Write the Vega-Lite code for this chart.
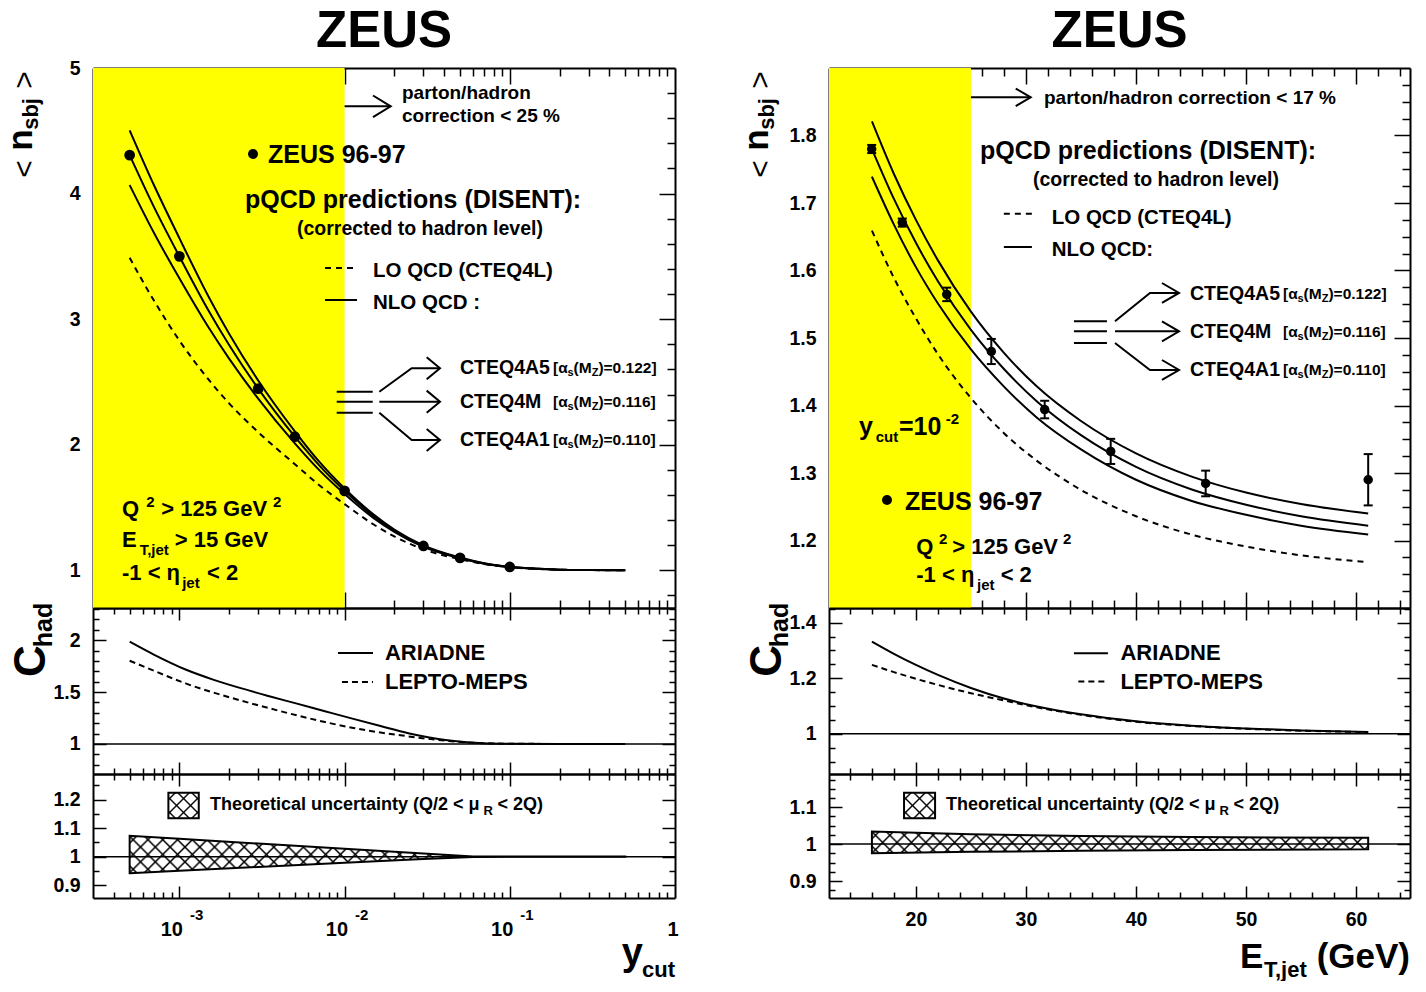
{
"$schema": "https://vega.github.io/schema/vega-lite/v6.json",
"background": "white",
"padding": {"left": 4, "top": 6, "right": 5, "bottom": 0},
"config": {
  "view": {"stroke": null},
  "axis": {"labels": false, "domain": false, "grid": false, "tickColor": "black", "tickWidth": 1.5, "domainColor": "black", "domainWidth": 2, "labelColor": "black", "labelFont": "Liberation Sans", "labelFontWeight": "bold", "labelFontSize": 19.5, "labelOverlap": false, "labelFlush": false, "zindex": 2},
  "text": {"font": "Liberation Sans", "fontWeight": "bold", "color": "black"}
},
"datasets": {
  "nloL": [
    {"pdf":"CTEQ4A5","x":0.0005,"y":4.504},{"pdf":"CTEQ4A5","x":0.0007,"y":4.07},{"pdf":"CTEQ4A5","x":0.001,"y":3.645},{"pdf":"CTEQ4A5","x":0.0015,"y":3.181},{"pdf":"CTEQ4A5","x":0.002,"y":2.884},{"pdf":"CTEQ4A5","x":0.003,"y":2.512},{"pdf":"CTEQ4A5","x":0.005,"y":2.107},{"pdf":"CTEQ4A5","x":0.007,"y":1.867},{"pdf":"CTEQ4A5","x":0.01,"y":1.652},{"pdf":"CTEQ4A5","x":0.015,"y":1.444},{"pdf":"CTEQ4A5","x":0.02,"y":1.325},{"pdf":"CTEQ4A5","x":0.03,"y":1.199},{"pdf":"CTEQ4A5","x":0.05,"y":1.102},{"pdf":"CTEQ4A5","x":0.07,"y":1.057},{"pdf":"CTEQ4A5","x":0.1,"y":1.028},{"pdf":"CTEQ4A5","x":0.15,"y":1.012},{"pdf":"CTEQ4A5","x":0.2,"y":1.005},{"pdf":"CTEQ4A5","x":0.3,"y":1.002},{"pdf":"CTEQ4A5","x":0.5,"y":1.0},
    {"pdf":"CTEQ4M","x":0.0005,"y":4.306},{"pdf":"CTEQ4M","x":0.0007,"y":3.896},{"pdf":"CTEQ4M","x":0.001,"y":3.5},{"pdf":"CTEQ4M","x":0.0015,"y":3.069},{"pdf":"CTEQ4M","x":0.002,"y":2.794},{"pdf":"CTEQ4M","x":0.003,"y":2.447},{"pdf":"CTEQ4M","x":0.005,"y":2.064},{"pdf":"CTEQ4M","x":0.007,"y":1.838},{"pdf":"CTEQ4M","x":0.01,"y":1.633},{"pdf":"CTEQ4M","x":0.015,"y":1.431},{"pdf":"CTEQ4M","x":0.02,"y":1.316},{"pdf":"CTEQ4M","x":0.03,"y":1.193},{"pdf":"CTEQ4M","x":0.05,"y":1.099},{"pdf":"CTEQ4M","x":0.07,"y":1.055},{"pdf":"CTEQ4M","x":0.1,"y":1.027},{"pdf":"CTEQ4M","x":0.15,"y":1.012},{"pdf":"CTEQ4M","x":0.2,"y":1.005},{"pdf":"CTEQ4M","x":0.3,"y":1.002},{"pdf":"CTEQ4M","x":0.5,"y":1.0},
    {"pdf":"CTEQ4A1","x":0.0005,"y":4.068},{"pdf":"CTEQ4A1","x":0.0007,"y":3.69},{"pdf":"CTEQ4A1","x":0.001,"y":3.325},{"pdf":"CTEQ4A1","x":0.0015,"y":2.935},{"pdf":"CTEQ4A1","x":0.002,"y":2.686},{"pdf":"CTEQ4A1","x":0.003,"y":2.367},{"pdf":"CTEQ4A1","x":0.005,"y":2.011},{"pdf":"CTEQ4A1","x":0.007,"y":1.8},{"pdf":"CTEQ4A1","x":0.01,"y":1.608},{"pdf":"CTEQ4A1","x":0.015,"y":1.416},{"pdf":"CTEQ4A1","x":0.02,"y":1.307},{"pdf":"CTEQ4A1","x":0.03,"y":1.187},{"pdf":"CTEQ4A1","x":0.05,"y":1.096},{"pdf":"CTEQ4A1","x":0.07,"y":1.053},{"pdf":"CTEQ4A1","x":0.1,"y":1.026},{"pdf":"CTEQ4A1","x":0.15,"y":1.012},{"pdf":"CTEQ4A1","x":0.2,"y":1.005},{"pdf":"CTEQ4A1","x":0.3,"y":1.002},{"pdf":"CTEQ4A1","x":0.5,"y":1.0}
  ],
  "loL": [
    {"x":0.0005,"y":3.489},{"x":0.0007,"y":3.15},{"x":0.001,"y":2.83},{"x":0.0015,"y":2.52},{"x":0.002,"y":2.33},{"x":0.003,"y":2.1},{"x":0.005,"y":1.845},{"x":0.007,"y":1.68},{"x":0.01,"y":1.527},{"x":0.015,"y":1.365},{"x":0.02,"y":1.27},{"x":0.03,"y":1.168},{"x":0.05,"y":1.088},{"x":0.07,"y":1.05},{"x":0.1,"y":1.025},{"x":0.15,"y":1.011},{"x":0.2,"y":1.005},{"x":0.3,"y":1.002},{"x":0.5,"y":1.0}
  ],
  "zeusL": [
    {"x":0.0005,"y":4.306},{"x":0.001,"y":3.5},{"x":0.003,"y":2.447},{"x":0.005,"y":2.064},{"x":0.01,"y":1.633},{"x":0.03,"y":1.194},{"x":0.05,"y":1.099},{"x":0.1,"y":1.027}
  ],
  "arrowsL": [
    {"p":"a0","o":1,"x":0.01,"y":4.695},{"p":"a0","o":2,"x":0.01901,"y":4.695},
    {"p":"a0h","o":1,"x":0.01486,"y":4.781},{"p":"a0h","o":2,"x":0.01901,"y":4.695},{"p":"a0h","o":3,"x":0.01486,"y":4.609},
    {"p":"nlo","o":1,"x":0.00761,"y":3.153},{"p":"nlo","o":2,"x":0.01189,"y":3.153},
    {"p":"lo","o":1,"x":0.00761,"y":3.407},{"p":"lo","o":2,"x":0.01189,"y":3.407},
    {"p":"s1","o":1,"x":0.00896,"y":2.422},{"p":"s1","o":2,"x":0.0148,"y":2.422},
    {"p":"s2","o":1,"x":0.00896,"y":2.343},{"p":"s2","o":2,"x":0.0148,"y":2.343},
    {"p":"s3","o":1,"x":0.00896,"y":2.255},{"p":"s3","o":2,"x":0.0148,"y":2.255},
    {"p":"b1","o":1,"x":0.01623,"y":2.422},{"p":"b1","o":2,"x":0.02548,"y":2.609},{"p":"b1","o":3,"x":0.0378,"y":2.609},
    {"p":"h1","o":1,"x":0.0314,"y":2.697},{"p":"h1","o":2,"x":0.0378,"y":2.609},{"p":"h1","o":3,"x":0.0314,"y":2.521},
    {"p":"b2","o":1,"x":0.01623,"y":2.343},{"p":"b2","o":2,"x":0.0378,"y":2.343},
    {"p":"h2","o":1,"x":0.0314,"y":2.431},{"p":"h2","o":2,"x":0.0378,"y":2.343},{"p":"h2","o":3,"x":0.0314,"y":2.255},
    {"p":"b3","o":1,"x":0.01623,"y":2.255},{"p":"b3","o":2,"x":0.02548,"y":2.038},{"p":"b3","o":3,"x":0.0378,"y":2.038},
    {"p":"h3","o":1,"x":0.0314,"y":2.126},{"p":"h3","o":2,"x":0.0378,"y":2.038},{"p":"h3","o":3,"x":0.0314,"y":1.95}
  ],
  "notesL": [
    {"role":"head","t":"ZEUS 96-97","x":0.00344,"y":4.307},
    {"role":"head","t":"pQCD predictions (DISENT):","x":0.002495,"y":3.949},
    {"role":"sub","t":"(corrected to hadron level)","x":0.00515,"y":3.72},
    {"role":"note","t":"parton/hadron","x":0.02226,"y":4.801},
    {"role":"note","t":"correction < 25 %","x":0.02226,"y":4.618},
    {"role":"leg","t":"LO QCD (CTEQ4L)","x":0.01486,"y":3.383},
    {"role":"leg","t":"NLO QCD :","x":0.01486,"y":3.129},
    {"role":"cond","t":"Q","x":0.0004493,"y":1.4923},
    {"role":"cond","t":"> 125 GeV","x":0.000777,"y":1.4923},
    {"role":"cond","t":"E","x":0.0004493,"y":1.2414},
    {"role":"cond","t":"> 15 GeV","x":0.000937,"y":1.2414},
    {"role":"cond","t":"-1 < η","x":0.0004493,"y":0.9762},
    {"role":"cond","t":"< 2","x":0.00147,"y":0.9762},
    {"role":"sup","t":"2","x":0.00063,"y":1.4923},
    {"role":"sup","t":"2","x":0.003687,"y":1.4923},
    {"role":"sb","t":"T,jet","x":0.000575,"y":1.2414},
    {"role":"sb","t":"jet","x":0.00104,"y":0.9762}
  ],
  "cteqL": [
    {"pdf":"CTEQ4A5","tail":")=0.122]","x":0.04995,"xb":0.1826,"y":2.609},
    {"pdf":"CTEQ4M","tail":")=0.116]","x":0.04995,"xb":0.1826,"y":2.343},
    {"pdf":"CTEQ4A1","tail":")=0.110]","x":0.04995,"xb":0.1826,"y":2.038}
  ],
  "hadL": [
    {"mc":"ARIADNE","x":0.0005,"y":1.985},{"mc":"ARIADNE","x":0.0007,"y":1.861},{"mc":"ARIADNE","x":0.00109,"y":1.717},{"mc":"ARIADNE","x":0.0016,"y":1.62},{"mc":"ARIADNE","x":0.00238,"y":1.535},{"mc":"ARIADNE","x":0.0035,"y":1.46},{"mc":"ARIADNE","x":0.00515,"y":1.388},{"mc":"ARIADNE","x":0.0076,"y":1.315},{"mc":"ARIADNE","x":0.0113,"y":1.241},{"mc":"ARIADNE","x":0.0165,"y":1.172},{"mc":"ARIADNE","x":0.0243,"y":1.103},{"mc":"ARIADNE","x":0.032,"y":1.064},{"mc":"ARIADNE","x":0.0408,"y":1.038},{"mc":"ARIADNE","x":0.053,"y":1.019},{"mc":"ARIADNE","x":0.0687,"y":1.007},{"mc":"ARIADNE","x":0.1,"y":1.002},{"mc":"ARIADNE","x":0.2,"y":1.0},{"mc":"ARIADNE","x":0.5,"y":1.0},
    {"mc":"LEPTO","x":0.0005,"y":1.802},{"mc":"LEPTO","x":0.0007,"y":1.706},{"mc":"LEPTO","x":0.00109,"y":1.583},{"mc":"LEPTO","x":0.0016,"y":1.496},{"mc":"LEPTO","x":0.00238,"y":1.416},{"mc":"LEPTO","x":0.0035,"y":1.344},{"mc":"LEPTO","x":0.00515,"y":1.275},{"mc":"LEPTO","x":0.0076,"y":1.211},{"mc":"LEPTO","x":0.0113,"y":1.154},{"mc":"LEPTO","x":0.0165,"y":1.11},{"mc":"LEPTO","x":0.0243,"y":1.073},{"mc":"LEPTO","x":0.032,"y":1.049},{"mc":"LEPTO","x":0.0408,"y":1.031},{"mc":"LEPTO","x":0.053,"y":1.016},{"mc":"LEPTO","x":0.0687,"y":1.007},{"mc":"LEPTO","x":0.1,"y":1.002},{"mc":"LEPTO","x":0.2,"y":1.0},{"mc":"LEPTO","x":0.5,"y":1.0}
  ],
  "bandL": [
    {"x":0.0005,"lo":0.942,"hi":1.0735},{"x":0.001,"lo":0.9504,"hi":1.0629},{"x":0.003,"lo":0.9637,"hi":1.046},{"x":0.01,"lo":0.9783,"hi":1.0275},{"x":0.03,"lo":0.9916,"hi":1.0107},{"x":0.06,"lo":0.999,"hi":1.001},{"x":0.1,"lo":0.9995,"hi":1.0005},{"x":0.5,"lo":0.9995,"hi":1.0005}
  ],
  "decades": [{"v":0.001,"e":"-3"},{"v":0.01,"e":"-2"},{"v":0.1,"e":"-1"}],
  "nloR": [
    {"pdf":"CTEQ4A5","x":16,"y":1.821},{"pdf":"CTEQ4A5","x":18,"y":1.743},{"pdf":"CTEQ4A5","x":20,"y":1.675},{"pdf":"CTEQ4A5","x":22,"y":1.615},{"pdf":"CTEQ4A5","x":25,"y":1.539},{"pdf":"CTEQ4A5","x":28,"y":1.478},{"pdf":"CTEQ4A5","x":31,"y":1.428},{"pdf":"CTEQ4A5","x":35,"y":1.377},{"pdf":"CTEQ4A5","x":40,"y":1.329},{"pdf":"CTEQ4A5","x":45,"y":1.295},{"pdf":"CTEQ4A5","x":50,"y":1.271},{"pdf":"CTEQ4A5","x":55,"y":1.254},{"pdf":"CTEQ4A5","x":61.1,"y":1.24},
    {"pdf":"CTEQ4M","x":16,"y":1.78},{"pdf":"CTEQ4M","x":18,"y":1.706},{"pdf":"CTEQ4M","x":20,"y":1.641},{"pdf":"CTEQ4M","x":22,"y":1.584},{"pdf":"CTEQ4M","x":25,"y":1.512},{"pdf":"CTEQ4M","x":28,"y":1.454},{"pdf":"CTEQ4M","x":31,"y":1.406},{"pdf":"CTEQ4M","x":35,"y":1.356},{"pdf":"CTEQ4M","x":40,"y":1.309},{"pdf":"CTEQ4M","x":45,"y":1.276},{"pdf":"CTEQ4M","x":50,"y":1.253},{"pdf":"CTEQ4M","x":55,"y":1.236},{"pdf":"CTEQ4M","x":61.1,"y":1.222},
    {"pdf":"CTEQ4A1","x":16,"y":1.739},{"pdf":"CTEQ4A1","x":18,"y":1.668},{"pdf":"CTEQ4A1","x":20,"y":1.605},{"pdf":"CTEQ4A1","x":22,"y":1.551},{"pdf":"CTEQ4A1","x":25,"y":1.483},{"pdf":"CTEQ4A1","x":28,"y":1.428},{"pdf":"CTEQ4A1","x":31,"y":1.382},{"pdf":"CTEQ4A1","x":35,"y":1.335},{"pdf":"CTEQ4A1","x":40,"y":1.29},{"pdf":"CTEQ4A1","x":45,"y":1.259},{"pdf":"CTEQ4A1","x":50,"y":1.238},{"pdf":"CTEQ4A1","x":55,"y":1.222},{"pdf":"CTEQ4A1","x":61.1,"y":1.209}
  ],
  "loR": [
    {"x":16,"y":1.659},{"x":18,"y":1.589},{"x":20,"y":1.529},{"x":22,"y":1.476},{"x":25,"y":1.411},{"x":28,"y":1.359},{"x":31,"y":1.318},{"x":35,"y":1.275},{"x":40,"y":1.236},{"x":45,"y":1.209},{"x":50,"y":1.191},{"x":55,"y":1.178},{"x":61.1,"y":1.168}
  ],
  "zeusR": [
    {"x":15.98,"y":1.78,"lo":1.774,"hi":1.786},{"x":18.76,"y":1.671,"lo":1.665,"hi":1.677},{"x":22.8,"y":1.5646,"lo":1.5546,"hi":1.5746},{"x":26.85,"y":1.48,"lo":1.4614,"hi":1.4986},{"x":31.7,"y":1.394,"lo":1.381,"hi":1.407},{"x":37.7,"y":1.332,"lo":1.3134,"hi":1.3506},{"x":46.33,"y":1.2845,"lo":1.2655,"hi":1.3035},{"x":61.1,"y":1.29,"lo":1.252,"hi":1.328}
  ],
  "arrowsR": [
    {"p":"a0","o":1,"x":25.0,"y":1.8566},{"p":"a0","o":2,"x":30.43,"y":1.8566},
    {"p":"a0h","o":1,"x":29.07,"y":1.8696},{"p":"a0h","o":2,"x":30.43,"y":1.8566},{"p":"a0h","o":3,"x":29.07,"y":1.8436},
    {"p":"nlo","o":1,"x":27.99,"y":1.6348},{"p":"nlo","o":2,"x":30.54,"y":1.6348},
    {"p":"lo","o":1,"x":27.99,"y":1.6841},{"p":"lo","o":2,"x":30.54,"y":1.6841},
    {"p":"s1","o":1,"x":34.36,"y":1.5247},{"p":"s1","o":2,"x":37.36,"y":1.5247},
    {"p":"s2","o":1,"x":34.36,"y":1.5099},{"p":"s2","o":2,"x":37.36,"y":1.5099},
    {"p":"s3","o":1,"x":34.36,"y":1.4926},{"p":"s3","o":2,"x":37.36,"y":1.4926},
    {"p":"b1","o":1,"x":38.09,"y":1.5247},{"p":"b1","o":2,"x":41.27,"y":1.5667},{"p":"b1","o":3,"x":43.91,"y":1.5667},
    {"p":"h1","o":1,"x":42.36,"y":1.5815},{"p":"h1","o":2,"x":43.91,"y":1.5667},{"p":"h1","o":3,"x":42.36,"y":1.5519},
    {"p":"b2","o":1,"x":38.09,"y":1.5099},{"p":"b2","o":2,"x":43.91,"y":1.5099},
    {"p":"h2","o":1,"x":42.36,"y":1.5247},{"p":"h2","o":2,"x":43.91,"y":1.5099},{"p":"h2","o":3,"x":42.36,"y":1.4951},
    {"p":"b3","o":1,"x":38.09,"y":1.4926},{"p":"b3","o":2,"x":41.27,"y":1.4526},{"p":"b3","o":3,"x":43.91,"y":1.4526},
    {"p":"h3","o":1,"x":42.36,"y":1.4674},{"p":"h3","o":2,"x":43.91,"y":1.4526},{"p":"h3","o":3,"x":42.36,"y":1.4378}
  ],
  "notesR": [
    {"role":"head","t":"pQCD predictions (DISENT):","x":25.82,"y":1.777},
    {"role":"head","t":"ZEUS 96-97","x":19.0,"y":1.2575},
    {"role":"head","t":"y","x":14.83,"y":1.3686},
    {"role":"head","t":"=10","x":18.46,"y":1.3686},
    {"role":"sub","t":"(corrected to hadron level)","x":30.64,"y":1.734},
    {"role":"note","t":"parton/hadron correction < 17 %","x":31.64,"y":1.8556},
    {"role":"leg","t":"LO QCD (CTEQ4L)","x":32.34,"y":1.6773},
    {"role":"leg","t":"NLO QCD:","x":32.34,"y":1.6304},
    {"role":"cond","t":"Q","x":20.03,"y":1.19},
    {"role":"cond","t":"> 125 GeV","x":23.3,"y":1.19},
    {"role":"cond","t":"-1 < η","x":20.03,"y":1.1489},
    {"role":"cond","t":"< 2","x":27.7,"y":1.1489},
    {"role":"sup","t":"2","x":22.09,"y":1.19},
    {"role":"sup","t":"2","x":33.37,"y":1.19},
    {"role":"sup","t":"-2","x":22.7,"y":1.3686},
    {"role":"sb","t":"jet","x":25.55,"y":1.1489},
    {"role":"sb","t":"cut","x":16.34,"y":1.3686}
  ],
  "cteqR": [
    {"pdf":"CTEQ4A5","tail":")=0.122]","x":44.91,"xb":53.36,"y":1.5652},
    {"pdf":"CTEQ4M","tail":")=0.116]","x":44.91,"xb":53.36,"y":1.5089},
    {"pdf":"CTEQ4A1","tail":")=0.110]","x":44.91,"xb":53.36,"y":1.4526}
  ],
  "hadR": [
    {"mc":"ARIADNE","x":16,"y":1.332},{"mc":"ARIADNE","x":18,"y":1.288},{"mc":"ARIADNE","x":20,"y":1.248},{"mc":"ARIADNE","x":22,"y":1.212},{"mc":"ARIADNE","x":25,"y":1.165},{"mc":"ARIADNE","x":28,"y":1.127},{"mc":"ARIADNE","x":31,"y":1.098},{"mc":"ARIADNE","x":35,"y":1.07},{"mc":"ARIADNE","x":40,"y":1.045},{"mc":"ARIADNE","x":45,"y":1.029},{"mc":"ARIADNE","x":50,"y":1.019},{"mc":"ARIADNE","x":55,"y":1.012},{"mc":"ARIADNE","x":61.1,"y":1.006},
    {"mc":"LEPTO","x":16,"y":1.248},{"mc":"LEPTO","x":18,"y":1.222},{"mc":"LEPTO","x":20,"y":1.198},{"mc":"LEPTO","x":22,"y":1.176},{"mc":"LEPTO","x":25,"y":1.146},{"mc":"LEPTO","x":28,"y":1.12},{"mc":"LEPTO","x":31,"y":1.095},{"mc":"LEPTO","x":35,"y":1.068},{"mc":"LEPTO","x":40,"y":1.043},{"mc":"LEPTO","x":45,"y":1.028},{"mc":"LEPTO","x":50,"y":1.018},{"mc":"LEPTO","x":55,"y":1.011},{"mc":"LEPTO","x":61.1,"y":1.006}
  ],
  "bandR": [
    {"x":16,"lo":0.975,"hi":1.034},{"x":25,"lo":0.979,"hi":1.027},{"x":35,"lo":0.982,"hi":1.022},{"x":45,"lo":0.984,"hi":1.019},{"x":61.1,"lo":0.986,"hi":1.017}
  ]
},
"columns": 2,
"spacing": {"row": 0, "column": 154},
"bounds": "flush",
"concat": [
  {
    "width": 582, "height": 540,
    "resolve": {"axis": {"x": "independent", "y": "independent"}},
    "layer": [
      {"data": {"values": [{}]}, "mark": {"type": "rect", "color": "#ffff00"},
       "encoding": {"x": {"datum": 0.0003, "type": "quantitative", "scale": {"type": "log", "domain": [0.0003, 1], "nice": false}, "axis": null}, "x2": {"datum": 0.01},
                    "y": {"datum": 0.7, "type": "quantitative", "scale": {"domain": [0.7, 5], "nice": false, "zero": false}, "axis": null}, "y2": {"datum": 5}}},
      {"data": {"name": "nloL"}, "mark": {"type": "line", "color": "black", "strokeWidth": 2, "interpolate": "monotone"},
       "encoding": {"x": {"field": "x", "type": "quantitative", "scale": {"type": "log", "domain": [0.0003, 1], "nice": false}, "axis": {"orient": "bottom", "values": [0.001, 0.01, 0.1], "tickSize": -16, "domain": true, "title": null}},
                    "y": {"field": "y", "type": "quantitative", "scale": {"domain": [0.7, 5], "nice": false, "zero": false}, "axis": {"orient": "left", "values": [1, 2, 3, 4], "tickSize": -16, "domain": true, "title": null}},
                    "detail": {"field": "pdf"}}},
      {"data": {"name": "loL"}, "mark": {"type": "line", "color": "black", "strokeWidth": 2, "strokeDash": [6, 5], "interpolate": "monotone"},
       "encoding": {"x": {"field": "x", "type": "quantitative", "scale": {"type": "log", "domain": [0.0003, 1], "nice": false}, "axis": {"orient": "bottom", "values": [0.0004,0.0005,0.0006,0.0007,0.0008,0.0009,0.002,0.003,0.004,0.005,0.006,0.007,0.008,0.009,0.02,0.03,0.04,0.05,0.06,0.07,0.08,0.09,0.2,0.3,0.4,0.5,0.6,0.7,0.8,0.9], "tickSize": -8, "title": null}},
                    "y": {"field": "y", "type": "quantitative", "scale": {"domain": [0.7, 5], "nice": false, "zero": false}, "axis": {"orient": "left", "values": [0.8,1.2,1.4,1.6,1.8,2.2,2.4,2.6,2.8,3.2,3.4,3.6,3.8,4.2,4.4,4.6,4.8], "tickSize": -8, "title": null}}}},
      {"data": {"name": "zeusL"}, "mark": {"type": "point", "filled": true, "color": "black", "opacity": 1, "size": 115},
       "encoding": {"x": {"field": "x", "type": "quantitative", "scale": {"type": "log", "domain": [0.0003, 1], "nice": false}, "axis": {"orient": "top", "values": [0.001, 0.01, 0.1], "tickSize": -16, "domain": true, "title": null}},
                    "y": {"field": "y", "type": "quantitative", "scale": {"domain": [0.7, 5], "nice": false, "zero": false}, "axis": {"orient": "right", "values": [1, 2, 3, 4], "tickSize": -16, "domain": true, "title": null}}}},
      {"data": {"name": "arrowsL"}, "transform": [{"filter": "datum.p !== 'lo'"}], "mark": {"type": "line", "color": "black", "strokeWidth": 2},
       "encoding": {"x": {"field": "x", "type": "quantitative", "scale": {"type": "log", "domain": [0.0003, 1], "nice": false}, "axis": {"orient": "top", "values": [0.0004,0.0005,0.0006,0.0007,0.0008,0.0009,0.002,0.003,0.004,0.005,0.006,0.007,0.008,0.009,0.02,0.03,0.04,0.05,0.06,0.07,0.08,0.09,0.2,0.3,0.4,0.5,0.6,0.7,0.8,0.9], "tickSize": -8, "title": null}},
                    "y": {"field": "y", "type": "quantitative", "scale": {"domain": [0.7, 5], "nice": false, "zero": false}, "axis": {"orient": "right", "values": [0.8,1.2,1.4,1.6,1.8,2.2,2.4,2.6,2.8,3.2,3.4,3.6,3.8,4.2,4.4,4.6,4.8], "tickSize": -8, "title": null}},
                    "detail": {"field": "p"}, "order": {"field": "o"}}},
      {"data": {"name": "arrowsL"}, "transform": [{"filter": "datum.p === 'lo'"}], "mark": {"type": "line", "color": "black", "strokeWidth": 2, "strokeDash": [6, 5]},
       "encoding": {"x": {"field": "x", "type": "quantitative", "scale": {"type": "log", "domain": [0.0003, 1], "nice": false}, "axis": null},
                    "y": {"field": "y", "type": "quantitative", "scale": {"domain": [0.7, 5], "nice": false, "zero": false}, "axis": {"orient": "left", "values": [1, 2, 3, 4, 5], "ticks": false, "labels": true, "labelPadding": 13, "format": "~g", "title": null}}}},
      {"data": {"values": [{}]}, "mark": {"type": "point", "filled": true, "color": "black", "opacity": 1, "size": 100},
       "encoding": {"x": {"datum": 0.00279, "type": "quantitative", "scale": {"type": "log", "domain": [0.0003, 1], "nice": false}, "axis": null},
                    "y": {"datum": 4.315, "type": "quantitative", "scale": {"domain": [0.7, 5], "nice": false, "zero": false}, "axis": null}}},
      {"data": {"values": [{}]}, "mark": {"type": "text", "align": "center", "baseline": "alphabetic", "fontSize": 51, "dy": -21, "text": "ZEUS"},
       "encoding": {"x": {"datum": 0.01732, "type": "quantitative", "scale": {"type": "log", "domain": [0.0003, 1], "nice": false}, "axis": null},
                    "y": {"datum": 5, "type": "quantitative", "scale": {"domain": [0.7, 5], "nice": false, "zero": false}, "axis": null}}},
      {"data": {"name": "notesL"}, "transform": [{"filter": "datum.role === 'head'"}], "mark": {"type": "text", "align": "left", "baseline": "middle", "fontSize": 25},
       "encoding": {"x": {"field": "x", "type": "quantitative", "scale": {"type": "log", "domain": [0.0003, 1], "nice": false}, "axis": null}, "y": {"field": "y", "type": "quantitative", "scale": {"domain": [0.7, 5], "nice": false, "zero": false}, "axis": null}, "text": {"field": "t"}}},
      {"data": {"name": "notesL"}, "transform": [{"filter": "datum.role === 'sub'"}], "mark": {"type": "text", "align": "left", "baseline": "middle", "fontSize": 19.5},
       "encoding": {"x": {"field": "x", "type": "quantitative", "scale": {"type": "log", "domain": [0.0003, 1], "nice": false}, "axis": null}, "y": {"field": "y", "type": "quantitative", "scale": {"domain": [0.7, 5], "nice": false, "zero": false}, "axis": null}, "text": {"field": "t"}}},
      {"data": {"name": "notesL"}, "transform": [{"filter": "datum.role === 'note'"}], "mark": {"type": "text", "align": "left", "baseline": "middle", "fontSize": 19},
       "encoding": {"x": {"field": "x", "type": "quantitative", "scale": {"type": "log", "domain": [0.0003, 1], "nice": false}, "axis": null}, "y": {"field": "y", "type": "quantitative", "scale": {"domain": [0.7, 5], "nice": false, "zero": false}, "axis": null}, "text": {"field": "t"}}},
      {"data": {"name": "notesL"}, "transform": [{"filter": "datum.role === 'leg'"}], "mark": {"type": "text", "align": "left", "baseline": "middle", "fontSize": 20.5},
       "encoding": {"x": {"field": "x", "type": "quantitative", "scale": {"type": "log", "domain": [0.0003, 1], "nice": false}, "axis": null}, "y": {"field": "y", "type": "quantitative", "scale": {"domain": [0.7, 5], "nice": false, "zero": false}, "axis": null}, "text": {"field": "t"}}},
      {"data": {"name": "notesL"}, "transform": [{"filter": "datum.role === 'cond'"}], "mark": {"type": "text", "align": "left", "baseline": "middle", "fontSize": 22},
       "encoding": {"x": {"field": "x", "type": "quantitative", "scale": {"type": "log", "domain": [0.0003, 1], "nice": false}, "axis": null}, "y": {"field": "y", "type": "quantitative", "scale": {"domain": [0.7, 5], "nice": false, "zero": false}, "axis": null}, "text": {"field": "t"}}},
      {"data": {"name": "notesL"}, "transform": [{"filter": "datum.role === 'sup'"}], "mark": {"type": "text", "align": "left", "baseline": "middle", "fontSize": 15, "dy": -7},
       "encoding": {"x": {"field": "x", "type": "quantitative", "scale": {"type": "log", "domain": [0.0003, 1], "nice": false}, "axis": null}, "y": {"field": "y", "type": "quantitative", "scale": {"domain": [0.7, 5], "nice": false, "zero": false}, "axis": null}, "text": {"field": "t"}}},
      {"data": {"name": "notesL"}, "transform": [{"filter": "datum.role === 'sb'"}], "mark": {"type": "text", "align": "left", "baseline": "middle", "fontSize": 15, "dy": 10},
       "encoding": {"x": {"field": "x", "type": "quantitative", "scale": {"type": "log", "domain": [0.0003, 1], "nice": false}, "axis": null}, "y": {"field": "y", "type": "quantitative", "scale": {"domain": [0.7, 5], "nice": false, "zero": false}, "axis": null}, "text": {"field": "t"}}},
      {"data": {"name": "cteqL"}, "mark": {"type": "text", "align": "left", "baseline": "middle", "fontSize": 19.5},
       "encoding": {"x": {"field": "x", "type": "quantitative", "scale": {"type": "log", "domain": [0.0003, 1], "nice": false}, "axis": null}, "y": {"field": "y", "type": "quantitative", "scale": {"domain": [0.7, 5], "nice": false, "zero": false}, "axis": null}, "text": {"field": "pdf"}}},
      {"data": {"name": "cteqL"}, "mark": {"type": "text", "align": "left", "baseline": "middle", "fontSize": 15.5, "text": "[α"},
       "encoding": {"x": {"field": "xb", "type": "quantitative", "scale": {"type": "log", "domain": [0.0003, 1], "nice": false}, "axis": null}, "y": {"field": "y", "type": "quantitative", "scale": {"domain": [0.7, 5], "nice": false, "zero": false}, "axis": null}}},
      {"data": {"name": "cteqL"}, "mark": {"type": "text", "align": "left", "baseline": "middle", "fontSize": 11, "dx": 14.5, "dy": 5, "text": "s"},
       "encoding": {"x": {"field": "xb", "type": "quantitative", "scale": {"type": "log", "domain": [0.0003, 1], "nice": false}, "axis": null}, "y": {"field": "y", "type": "quantitative", "scale": {"domain": [0.7, 5], "nice": false, "zero": false}, "axis": null}}},
      {"data": {"name": "cteqL"}, "mark": {"type": "text", "align": "left", "baseline": "middle", "fontSize": 15.5, "dx": 20.6, "text": "(M"},
       "encoding": {"x": {"field": "xb", "type": "quantitative", "scale": {"type": "log", "domain": [0.0003, 1], "nice": false}, "axis": null}, "y": {"field": "y", "type": "quantitative", "scale": {"domain": [0.7, 5], "nice": false, "zero": false}, "axis": null}}},
      {"data": {"name": "cteqL"}, "mark": {"type": "text", "align": "left", "baseline": "middle", "fontSize": 11, "dx": 38.7, "dy": 5, "text": "Z"},
       "encoding": {"x": {"field": "xb", "type": "quantitative", "scale": {"type": "log", "domain": [0.0003, 1], "nice": false}, "axis": null}, "y": {"field": "y", "type": "quantitative", "scale": {"domain": [0.7, 5], "nice": false, "zero": false}, "axis": null}}},
      {"data": {"name": "cteqL"}, "mark": {"type": "text", "align": "left", "baseline": "middle", "fontSize": 15.5, "dx": 45.4},
       "encoding": {"x": {"field": "xb", "type": "quantitative", "scale": {"type": "log", "domain": [0.0003, 1], "nice": false}, "axis": null}, "y": {"field": "y", "type": "quantitative", "scale": {"domain": [0.7, 5], "nice": false, "zero": false}, "axis": null}, "text": {"field": "tail"}}},
      {"data": {"values": [{}]}, "mark": {"type": "text", "angle": 270, "align": "center", "baseline": "alphabetic", "fontSize": 30, "fontWeight": "normal", "dy": -59, "text": "<"},
       "encoding": {"x": {"datum": 0.0003, "type": "quantitative", "scale": {"type": "log", "domain": [0.0003, 1], "nice": false}, "axis": null}, "y": {"datum": 4.196, "type": "quantitative", "scale": {"domain": [0.7, 5], "nice": false, "zero": false}, "axis": null}}},
      {"data": {"values": [{}]}, "mark": {"type": "text", "angle": 270, "align": "center", "baseline": "alphabetic", "fontSize": 35, "dy": -61, "text": "n"},
       "encoding": {"x": {"datum": 0.0003, "type": "quantitative", "scale": {"type": "log", "domain": [0.0003, 1], "nice": false}, "axis": null}, "y": {"datum": 4.427, "type": "quantitative", "scale": {"domain": [0.7, 5], "nice": false, "zero": false}, "axis": null}}},
      {"data": {"values": [{}]}, "mark": {"type": "text", "angle": 270, "align": "center", "baseline": "alphabetic", "fontSize": 22, "dy": -55, "text": "sbj"},
       "encoding": {"x": {"datum": 0.0003, "type": "quantitative", "scale": {"type": "log", "domain": [0.0003, 1], "nice": false}, "axis": null}, "y": {"datum": 4.634, "type": "quantitative", "scale": {"domain": [0.7, 5], "nice": false, "zero": false}, "axis": null}}},
      {"data": {"values": [{}]}, "mark": {"type": "text", "angle": 270, "align": "center", "baseline": "alphabetic", "fontSize": 30, "fontWeight": "normal", "dy": -59, "text": ">"},
       "encoding": {"x": {"datum": 0.0003, "type": "quantitative", "scale": {"type": "log", "domain": [0.0003, 1], "nice": false}, "axis": null}, "y": {"datum": 4.904, "type": "quantitative", "scale": {"domain": [0.7, 5], "nice": false, "zero": false}, "axis": null}}}
    ]
  },
  {
    "width": 581, "height": 540,
    "resolve": {"axis": {"x": "independent", "y": "independent"}},
    "layer": [
      {"data": {"values": [{}]}, "mark": {"type": "rect", "color": "#ffff00"},
       "encoding": {"x": {"datum": 12.1, "type": "quantitative", "scale": {"domain": [12.1, 64.9], "nice": false, "zero": false}, "axis": null}, "x2": {"datum": 25},
                    "y": {"datum": 1.1, "type": "quantitative", "scale": {"domain": [1.1, 1.9], "nice": false, "zero": false}, "axis": null}, "y2": {"datum": 1.9}}},
      {"data": {"name": "nloR"}, "mark": {"type": "line", "color": "black", "strokeWidth": 2, "interpolate": "monotone"},
       "encoding": {"x": {"field": "x", "type": "quantitative", "scale": {"domain": [12.1, 64.9], "nice": false, "zero": false}, "axis": {"orient": "bottom", "values": [20, 30, 40, 50, 60], "tickSize": -16, "domain": true, "title": null}},
                    "y": {"field": "y", "type": "quantitative", "scale": {"domain": [1.1, 1.9], "nice": false, "zero": false}, "axis": {"orient": "left", "values": [1.2, 1.3, 1.4, 1.5, 1.6, 1.7, 1.8], "tickSize": -16, "domain": true, "title": null}},
                    "detail": {"field": "pdf"}}},
      {"data": {"name": "loR"}, "mark": {"type": "line", "color": "black", "strokeWidth": 2, "strokeDash": [6, 5], "interpolate": "monotone"},
       "encoding": {"x": {"field": "x", "type": "quantitative", "scale": {"domain": [12.1, 64.9], "nice": false, "zero": false}, "axis": {"orient": "bottom", "values": [14,16,18,22,24,26,28,32,34,36,38,42,44,46,48,52,54,56,58,62,64], "tickSize": -8, "title": null}},
                    "y": {"field": "y", "type": "quantitative", "scale": {"domain": [1.1, 1.9], "nice": false, "zero": false}, "axis": {"orient": "left", "values": [1.125,1.15,1.175,1.225,1.25,1.275,1.325,1.35,1.375,1.425,1.45,1.475,1.525,1.55,1.575,1.625,1.65,1.675,1.725,1.75,1.775,1.825,1.85,1.875], "tickSize": -8, "title": null}}}},
      {"data": {"name": "zeusR"}, "mark": {"type": "rule", "color": "black", "strokeWidth": 2},
       "encoding": {"x": {"field": "x", "type": "quantitative", "scale": {"domain": [12.1, 64.9], "nice": false, "zero": false}, "axis": {"orient": "top", "values": [20, 30, 40, 50, 60], "tickSize": -16, "domain": true, "title": null}},
                    "y": {"field": "lo", "type": "quantitative", "scale": {"domain": [1.1, 1.9], "nice": false, "zero": false}, "axis": {"orient": "right", "values": [1.2, 1.3, 1.4, 1.5, 1.6, 1.7, 1.8], "tickSize": -16, "domain": true, "title": null}},
                    "y2": {"field": "hi"}}},
      {"data": {"name": "zeusR"}, "mark": {"type": "tick", "orient": "horizontal", "color": "black", "size": 9, "thickness": 2, "opacity": 1},
       "encoding": {"x": {"field": "x", "type": "quantitative", "scale": {"domain": [12.1, 64.9], "nice": false, "zero": false}, "axis": null},
                    "y": {"field": "lo", "type": "quantitative", "scale": {"domain": [1.1, 1.9], "nice": false, "zero": false}, "axis": null}}},
      {"data": {"name": "zeusR"}, "mark": {"type": "tick", "orient": "horizontal", "color": "black", "size": 9, "thickness": 2, "opacity": 1},
       "encoding": {"x": {"field": "x", "type": "quantitative", "scale": {"domain": [12.1, 64.9], "nice": false, "zero": false}, "axis": null},
                    "y": {"field": "hi", "type": "quantitative", "scale": {"domain": [1.1, 1.9], "nice": false, "zero": false}, "axis": null}}},
      {"data": {"name": "zeusR"}, "mark": {"type": "point", "filled": true, "color": "black", "opacity": 1, "size": 90},
       "encoding": {"x": {"field": "x", "type": "quantitative", "scale": {"domain": [12.1, 64.9], "nice": false, "zero": false}, "axis": {"orient": "top", "values": [14,16,18,22,24,26,28,32,34,36,38,42,44,46,48,52,54,56,58,62,64], "tickSize": -8, "title": null}},
                    "y": {"field": "y", "type": "quantitative", "scale": {"domain": [1.1, 1.9], "nice": false, "zero": false}, "axis": {"orient": "right", "values": [1.125,1.15,1.175,1.225,1.25,1.275,1.325,1.35,1.375,1.425,1.45,1.475,1.525,1.55,1.575,1.625,1.65,1.675,1.725,1.75,1.775,1.825,1.85,1.875], "tickSize": -8, "title": null}}}},
      {"data": {"name": "arrowsR"}, "transform": [{"filter": "datum.p !== 'lo'"}], "mark": {"type": "line", "color": "black", "strokeWidth": 2},
       "encoding": {"x": {"field": "x", "type": "quantitative", "scale": {"domain": [12.1, 64.9], "nice": false, "zero": false}, "axis": null},
                    "y": {"field": "y", "type": "quantitative", "scale": {"domain": [1.1, 1.9], "nice": false, "zero": false}, "axis": {"orient": "left", "values": [1.2, 1.3, 1.4, 1.5, 1.6, 1.7, 1.8], "ticks": false, "labels": true, "labelPadding": 13, "format": "~g", "title": null}},
                    "detail": {"field": "p"}, "order": {"field": "o"}}},
      {"data": {"name": "arrowsR"}, "transform": [{"filter": "datum.p === 'lo'"}], "mark": {"type": "line", "color": "black", "strokeWidth": 2, "strokeDash": [6, 5]},
       "encoding": {"x": {"field": "x", "type": "quantitative", "scale": {"domain": [12.1, 64.9], "nice": false, "zero": false}, "axis": null},
                    "y": {"field": "y", "type": "quantitative", "scale": {"domain": [1.1, 1.9], "nice": false, "zero": false}, "axis": null}}},
      {"data": {"values": [{}]}, "mark": {"type": "point", "filled": true, "color": "black", "opacity": 1, "size": 100},
       "encoding": {"x": {"datum": 17.37, "type": "quantitative", "scale": {"domain": [12.1, 64.9], "nice": false, "zero": false}, "axis": null},
                    "y": {"datum": 1.26, "type": "quantitative", "scale": {"domain": [1.1, 1.9], "nice": false, "zero": false}, "axis": null}}},
      {"data": {"values": [{}]}, "mark": {"type": "text", "align": "center", "baseline": "alphabetic", "fontSize": 51, "dy": -21, "text": "ZEUS"},
       "encoding": {"x": {"datum": 38.5, "type": "quantitative", "scale": {"domain": [12.1, 64.9], "nice": false, "zero": false}, "axis": null},
                    "y": {"datum": 1.9, "type": "quantitative", "scale": {"domain": [1.1, 1.9], "nice": false, "zero": false}, "axis": null}}},
      {"data": {"name": "notesR"}, "transform": [{"filter": "datum.role === 'head'"}], "mark": {"type": "text", "align": "left", "baseline": "middle", "fontSize": 25},
       "encoding": {"x": {"field": "x", "type": "quantitative", "scale": {"domain": [12.1, 64.9], "nice": false, "zero": false}, "axis": null}, "y": {"field": "y", "type": "quantitative", "scale": {"domain": [1.1, 1.9], "nice": false, "zero": false}, "axis": null}, "text": {"field": "t"}}},
      {"data": {"name": "notesR"}, "transform": [{"filter": "datum.role === 'sub'"}], "mark": {"type": "text", "align": "left", "baseline": "middle", "fontSize": 19.5},
       "encoding": {"x": {"field": "x", "type": "quantitative", "scale": {"domain": [12.1, 64.9], "nice": false, "zero": false}, "axis": null}, "y": {"field": "y", "type": "quantitative", "scale": {"domain": [1.1, 1.9], "nice": false, "zero": false}, "axis": null}, "text": {"field": "t"}}},
      {"data": {"name": "notesR"}, "transform": [{"filter": "datum.role === 'note'"}], "mark": {"type": "text", "align": "left", "baseline": "middle", "fontSize": 19},
       "encoding": {"x": {"field": "x", "type": "quantitative", "scale": {"domain": [12.1, 64.9], "nice": false, "zero": false}, "axis": null}, "y": {"field": "y", "type": "quantitative", "scale": {"domain": [1.1, 1.9], "nice": false, "zero": false}, "axis": null}, "text": {"field": "t"}}},
      {"data": {"name": "notesR"}, "transform": [{"filter": "datum.role === 'leg'"}], "mark": {"type": "text", "align": "left", "baseline": "middle", "fontSize": 20.5},
       "encoding": {"x": {"field": "x", "type": "quantitative", "scale": {"domain": [12.1, 64.9], "nice": false, "zero": false}, "axis": null}, "y": {"field": "y", "type": "quantitative", "scale": {"domain": [1.1, 1.9], "nice": false, "zero": false}, "axis": null}, "text": {"field": "t"}}},
      {"data": {"name": "notesR"}, "transform": [{"filter": "datum.role === 'cond'"}], "mark": {"type": "text", "align": "left", "baseline": "middle", "fontSize": 22},
       "encoding": {"x": {"field": "x", "type": "quantitative", "scale": {"domain": [12.1, 64.9], "nice": false, "zero": false}, "axis": null}, "y": {"field": "y", "type": "quantitative", "scale": {"domain": [1.1, 1.9], "nice": false, "zero": false}, "axis": null}, "text": {"field": "t"}}},
      {"data": {"name": "notesR"}, "transform": [{"filter": "datum.role === 'sup'"}], "mark": {"type": "text", "align": "left", "baseline": "middle", "fontSize": 15, "dy": -8},
       "encoding": {"x": {"field": "x", "type": "quantitative", "scale": {"domain": [12.1, 64.9], "nice": false, "zero": false}, "axis": null}, "y": {"field": "y", "type": "quantitative", "scale": {"domain": [1.1, 1.9], "nice": false, "zero": false}, "axis": null}, "text": {"field": "t"}}},
      {"data": {"name": "notesR"}, "transform": [{"filter": "datum.role === 'sb'"}], "mark": {"type": "text", "align": "left", "baseline": "middle", "fontSize": 15, "dy": 10},
       "encoding": {"x": {"field": "x", "type": "quantitative", "scale": {"domain": [12.1, 64.9], "nice": false, "zero": false}, "axis": null}, "y": {"field": "y", "type": "quantitative", "scale": {"domain": [1.1, 1.9], "nice": false, "zero": false}, "axis": null}, "text": {"field": "t"}}},
      {"data": {"name": "cteqR"}, "mark": {"type": "text", "align": "left", "baseline": "middle", "fontSize": 19.5},
       "encoding": {"x": {"field": "x", "type": "quantitative", "scale": {"domain": [12.1, 64.9], "nice": false, "zero": false}, "axis": null}, "y": {"field": "y", "type": "quantitative", "scale": {"domain": [1.1, 1.9], "nice": false, "zero": false}, "axis": null}, "text": {"field": "pdf"}}},
      {"data": {"name": "cteqR"}, "mark": {"type": "text", "align": "left", "baseline": "middle", "fontSize": 15.5, "text": "[α"},
       "encoding": {"x": {"field": "xb", "type": "quantitative", "scale": {"domain": [12.1, 64.9], "nice": false, "zero": false}, "axis": null}, "y": {"field": "y", "type": "quantitative", "scale": {"domain": [1.1, 1.9], "nice": false, "zero": false}, "axis": null}}},
      {"data": {"name": "cteqR"}, "mark": {"type": "text", "align": "left", "baseline": "middle", "fontSize": 11, "dx": 14.5, "dy": 5, "text": "s"},
       "encoding": {"x": {"field": "xb", "type": "quantitative", "scale": {"domain": [12.1, 64.9], "nice": false, "zero": false}, "axis": null}, "y": {"field": "y", "type": "quantitative", "scale": {"domain": [1.1, 1.9], "nice": false, "zero": false}, "axis": null}}},
      {"data": {"name": "cteqR"}, "mark": {"type": "text", "align": "left", "baseline": "middle", "fontSize": 15.5, "dx": 20.6, "text": "(M"},
       "encoding": {"x": {"field": "xb", "type": "quantitative", "scale": {"domain": [12.1, 64.9], "nice": false, "zero": false}, "axis": null}, "y": {"field": "y", "type": "quantitative", "scale": {"domain": [1.1, 1.9], "nice": false, "zero": false}, "axis": null}}},
      {"data": {"name": "cteqR"}, "mark": {"type": "text", "align": "left", "baseline": "middle", "fontSize": 11, "dx": 38.7, "dy": 5, "text": "Z"},
       "encoding": {"x": {"field": "xb", "type": "quantitative", "scale": {"domain": [12.1, 64.9], "nice": false, "zero": false}, "axis": null}, "y": {"field": "y", "type": "quantitative", "scale": {"domain": [1.1, 1.9], "nice": false, "zero": false}, "axis": null}}},
      {"data": {"name": "cteqR"}, "mark": {"type": "text", "align": "left", "baseline": "middle", "fontSize": 15.5, "dx": 45.4},
       "encoding": {"x": {"field": "xb", "type": "quantitative", "scale": {"domain": [12.1, 64.9], "nice": false, "zero": false}, "axis": null}, "y": {"field": "y", "type": "quantitative", "scale": {"domain": [1.1, 1.9], "nice": false, "zero": false}, "axis": null}, "text": {"field": "tail"}}},
      {"data": {"values": [{}]}, "mark": {"type": "text", "angle": 270, "align": "center", "baseline": "alphabetic", "fontSize": 30, "fontWeight": "normal", "dy": -59, "text": "<"},
       "encoding": {"x": {"datum": 12.1, "type": "quantitative", "scale": {"domain": [12.1, 64.9], "nice": false, "zero": false}, "axis": null}, "y": {"datum": 1.7504, "type": "quantitative", "scale": {"domain": [1.1, 1.9], "nice": false, "zero": false}, "axis": null}}},
      {"data": {"values": [{}]}, "mark": {"type": "text", "angle": 270, "align": "center", "baseline": "alphabetic", "fontSize": 35, "dy": -61, "text": "n"},
       "encoding": {"x": {"datum": 12.1, "type": "quantitative", "scale": {"domain": [12.1, 64.9], "nice": false, "zero": false}, "axis": null}, "y": {"datum": 1.7933, "type": "quantitative", "scale": {"domain": [1.1, 1.9], "nice": false, "zero": false}, "axis": null}}},
      {"data": {"values": [{}]}, "mark": {"type": "text", "angle": 270, "align": "center", "baseline": "alphabetic", "fontSize": 22, "dy": -55, "text": "sbj"},
       "encoding": {"x": {"datum": 12.1, "type": "quantitative", "scale": {"domain": [12.1, 64.9], "nice": false, "zero": false}, "axis": null}, "y": {"datum": 1.8319, "type": "quantitative", "scale": {"domain": [1.1, 1.9], "nice": false, "zero": false}, "axis": null}}},
      {"data": {"values": [{}]}, "mark": {"type": "text", "angle": 270, "align": "center", "baseline": "alphabetic", "fontSize": 30, "fontWeight": "normal", "dy": -59, "text": ">"},
       "encoding": {"x": {"datum": 12.1, "type": "quantitative", "scale": {"domain": [12.1, 64.9], "nice": false, "zero": false}, "axis": null}, "y": {"datum": 1.8822, "type": "quantitative", "scale": {"domain": [1.1, 1.9], "nice": false, "zero": false}, "axis": null}}}
    ]
  },
  {
    "width": 582, "height": 166,
    "resolve": {"axis": {"x": "independent", "y": "independent"}},
    "layer": [
      {"data": {"values": [{}]}, "mark": {"type": "rule", "color": "black", "strokeWidth": 1.5},
       "encoding": {"y": {"datum": 1, "type": "quantitative", "scale": {"domain": [0.71, 2.31], "nice": false, "zero": false}, "axis": null}}},
      {"data": {"name": "hadL"}, "transform": [{"filter": "datum.mc === 'ARIADNE'"}], "mark": {"type": "line", "color": "black", "strokeWidth": 2, "interpolate": "monotone"},
       "encoding": {"x": {"field": "x", "type": "quantitative", "scale": {"type": "log", "domain": [0.0003, 1], "nice": false}, "axis": {"orient": "bottom", "values": [0.001, 0.01, 0.1], "tickSize": -12, "domain": true, "title": null}},
                    "y": {"field": "y", "type": "quantitative", "scale": {"domain": [0.71, 2.31], "nice": false, "zero": false}, "axis": {"orient": "left", "values": [1, 1.5, 2], "tickSize": -13, "domain": true, "title": null}}}},
      {"data": {"name": "hadL"}, "transform": [{"filter": "datum.mc === 'LEPTO'"}], "mark": {"type": "line", "color": "black", "strokeWidth": 2, "strokeDash": [6, 4], "interpolate": "monotone"},
       "encoding": {"x": {"field": "x", "type": "quantitative", "scale": {"type": "log", "domain": [0.0003, 1], "nice": false}, "axis": {"orient": "bottom", "values": [0.0004,0.0005,0.0006,0.0007,0.0008,0.0009,0.002,0.003,0.004,0.005,0.006,0.007,0.008,0.009,0.02,0.03,0.04,0.05,0.06,0.07,0.08,0.09,0.2,0.3,0.4,0.5,0.6,0.7,0.8,0.9], "tickSize": -6, "title": null}},
                    "y": {"field": "y", "type": "quantitative", "scale": {"domain": [0.71, 2.31], "nice": false, "zero": false}, "axis": {"orient": "left", "values": [0.8,0.9,1.1,1.2,1.3,1.4,1.6,1.7,1.8,1.9,2.1,2.2,2.3], "tickSize": -6, "title": null}}}},
      {"data": {"values": [{"x": 0.00912, "y": 1.876}, {"x": 0.01486, "y": 1.876}]}, "mark": {"type": "line", "color": "black", "strokeWidth": 2},
       "encoding": {"x": {"field": "x", "type": "quantitative", "scale": {"type": "log", "domain": [0.0003, 1], "nice": false}, "axis": {"orient": "top", "values": [0.001, 0.01, 0.1], "tickSize": -12, "domain": true, "title": null}},
                    "y": {"field": "y", "type": "quantitative", "scale": {"domain": [0.71, 2.31], "nice": false, "zero": false}, "axis": {"orient": "right", "values": [1, 1.5, 2], "tickSize": -13, "domain": true, "title": null}}}},
      {"data": {"values": [{"x": 0.00964, "y": 1.597}, {"x": 0.01486, "y": 1.597}]}, "mark": {"type": "line", "color": "black", "strokeWidth": 2, "strokeDash": [6, 4]},
       "encoding": {"x": {"field": "x", "type": "quantitative", "scale": {"type": "log", "domain": [0.0003, 1], "nice": false}, "axis": {"orient": "top", "values": [0.0004,0.0005,0.0006,0.0007,0.0008,0.0009,0.002,0.003,0.004,0.005,0.006,0.007,0.008,0.009,0.02,0.03,0.04,0.05,0.06,0.07,0.08,0.09,0.2,0.3,0.4,0.5,0.6,0.7,0.8,0.9], "tickSize": -6, "title": null}},
                    "y": {"field": "y", "type": "quantitative", "scale": {"domain": [0.71, 2.31], "nice": false, "zero": false}, "axis": {"orient": "right", "values": [0.8,0.9,1.1,1.2,1.3,1.4,1.6,1.7,1.8,1.9,2.1,2.2,2.3], "tickSize": -6, "title": null}}}},
      {"data": {"values": [{"t": "ARIADNE", "x": 0.01756, "y": 1.876}, {"t": "LEPTO-MEPS", "x": 0.01756, "y": 1.597}]}, "mark": {"type": "text", "align": "left", "baseline": "middle", "fontSize": 22},
       "encoding": {"x": {"field": "x", "type": "quantitative", "scale": {"type": "log", "domain": [0.0003, 1], "nice": false}, "axis": null},
                    "y": {"field": "y", "type": "quantitative", "scale": {"domain": [0.71, 2.31], "nice": false, "zero": false}, "axis": {"orient": "left", "values": [1, 1.5, 2], "ticks": false, "labels": true, "labelPadding": 13, "format": "~g", "title": null}},
                    "text": {"field": "t"}}},
      {"data": {"values": [{}]}, "mark": {"type": "text", "angle": 270, "align": "center", "baseline": "alphabetic", "fontSize": 44, "dy": -48, "text": "C"},
       "encoding": {"x": {"datum": 0.0003, "type": "quantitative", "scale": {"type": "log", "domain": [0.0003, 1], "nice": false}, "axis": null}, "y": {"datum": 1.799, "type": "quantitative", "scale": {"domain": [0.71, 2.31], "nice": false, "zero": false}, "axis": null}}},
      {"data": {"values": [{}]}, "mark": {"type": "text", "angle": 270, "align": "center", "baseline": "alphabetic", "fontSize": 25, "dy": -41, "text": "had"},
       "encoding": {"x": {"datum": 0.0003, "type": "quantitative", "scale": {"type": "log", "domain": [0.0003, 1], "nice": false}, "axis": null}, "y": {"datum": 2.146, "type": "quantitative", "scale": {"domain": [0.71, 2.31], "nice": false, "zero": false}, "axis": null}}}
    ]
  },
  {
    "width": 581, "height": 166,
    "resolve": {"axis": {"x": "independent", "y": "independent"}},
    "layer": [
      {"data": {"values": [{}]}, "mark": {"type": "rule", "color": "black", "strokeWidth": 1.5},
       "encoding": {"y": {"datum": 1, "type": "quantitative", "scale": {"domain": [0.855, 1.453], "nice": false, "zero": false}, "axis": null}}},
      {"data": {"name": "hadR"}, "transform": [{"filter": "datum.mc === 'ARIADNE'"}], "mark": {"type": "line", "color": "black", "strokeWidth": 2, "interpolate": "monotone"},
       "encoding": {"x": {"field": "x", "type": "quantitative", "scale": {"domain": [12.1, 64.9], "nice": false, "zero": false}, "axis": {"orient": "bottom", "values": [20, 30, 40, 50, 60], "tickSize": -12, "domain": true, "title": null}},
                    "y": {"field": "y", "type": "quantitative", "scale": {"domain": [0.855, 1.453], "nice": false, "zero": false}, "axis": {"orient": "left", "values": [1, 1.2, 1.4], "tickSize": -13, "domain": true, "title": null}}}},
      {"data": {"name": "hadR"}, "transform": [{"filter": "datum.mc === 'LEPTO'"}], "mark": {"type": "line", "color": "black", "strokeWidth": 2, "strokeDash": [6, 4], "interpolate": "monotone"},
       "encoding": {"x": {"field": "x", "type": "quantitative", "scale": {"domain": [12.1, 64.9], "nice": false, "zero": false}, "axis": {"orient": "bottom", "values": [14,16,18,22,24,26,28,32,34,36,38,42,44,46,48,52,54,56,58,62,64], "tickSize": -6, "title": null}},
                    "y": {"field": "y", "type": "quantitative", "scale": {"domain": [0.855, 1.453], "nice": false, "zero": false}, "axis": {"orient": "left", "values": [0.9, 0.95, 1.05, 1.1, 1.15, 1.25, 1.3, 1.35, 1.45], "tickSize": -6, "title": null}}}},
      {"data": {"values": [{"x": 34.36, "y": 1.29}, {"x": 37.45, "y": 1.29}]}, "mark": {"type": "line", "color": "black", "strokeWidth": 2},
       "encoding": {"x": {"field": "x", "type": "quantitative", "scale": {"domain": [12.1, 64.9], "nice": false, "zero": false}, "axis": {"orient": "top", "values": [20, 30, 40, 50, 60], "tickSize": -12, "domain": true, "title": null}},
                    "y": {"field": "y", "type": "quantitative", "scale": {"domain": [0.855, 1.453], "nice": false, "zero": false}, "axis": {"orient": "right", "values": [1, 1.2, 1.4], "tickSize": -13, "domain": true, "title": null}}}},
      {"data": {"values": [{"x": 34.76, "y": 1.188}, {"x": 37.45, "y": 1.188}]}, "mark": {"type": "line", "color": "black", "strokeWidth": 2, "strokeDash": [6, 4]},
       "encoding": {"x": {"field": "x", "type": "quantitative", "scale": {"domain": [12.1, 64.9], "nice": false, "zero": false}, "axis": {"orient": "top", "values": [14,16,18,22,24,26,28,32,34,36,38,42,44,46,48,52,54,56,58,62,64], "tickSize": -6, "title": null}},
                    "y": {"field": "y", "type": "quantitative", "scale": {"domain": [0.855, 1.453], "nice": false, "zero": false}, "axis": {"orient": "right", "values": [0.9, 0.95, 1.05, 1.1, 1.15, 1.25, 1.3, 1.35, 1.45], "tickSize": -6, "title": null}}}},
      {"data": {"values": [{"t": "ARIADNE", "x": 38.58, "y": 1.29}, {"t": "LEPTO-MEPS", "x": 38.58, "y": 1.188}]}, "mark": {"type": "text", "align": "left", "baseline": "middle", "fontSize": 22},
       "encoding": {"x": {"field": "x", "type": "quantitative", "scale": {"domain": [12.1, 64.9], "nice": false, "zero": false}, "axis": null},
                    "y": {"field": "y", "type": "quantitative", "scale": {"domain": [0.855, 1.453], "nice": false, "zero": false}, "axis": {"orient": "left", "values": [1, 1.2, 1.4], "ticks": false, "labels": true, "labelPadding": 13, "format": "~g", "title": null}},
                    "text": {"field": "t"}}},
      {"data": {"values": [{}]}, "mark": {"type": "text", "angle": 270, "align": "center", "baseline": "alphabetic", "fontSize": 44, "dy": -48, "text": "C"},
       "encoding": {"x": {"datum": 12.1, "type": "quantitative", "scale": {"domain": [12.1, 64.9], "nice": false, "zero": false}, "axis": null}, "y": {"datum": 1.2624, "type": "quantitative", "scale": {"domain": [0.855, 1.453], "nice": false, "zero": false}, "axis": null}}},
      {"data": {"values": [{}]}, "mark": {"type": "text", "angle": 270, "align": "center", "baseline": "alphabetic", "fontSize": 25, "dy": -41, "text": "had"},
       "encoding": {"x": {"datum": 12.1, "type": "quantitative", "scale": {"domain": [12.1, 64.9], "nice": false, "zero": false}, "axis": null}, "y": {"datum": 1.3918, "type": "quantitative", "scale": {"domain": [0.855, 1.453], "nice": false, "zero": false}, "axis": null}}}
    ]
  },
  {
    "width": 582, "height": 124,
    "resolve": {"axis": {"x": "independent", "y": "independent"}},
    "layer": [
      {"data": {"name": "bandL"}, "mark": {"type": "area", "stroke": "black", "strokeWidth": 2,
         "fill": {"gradient": "linear", "x1": 0, "y1": 0, "x2": 1.06955, "y2": 0.08093, "stops": [
           {"offset":0.00989,"color":"transparent"},{"offset":0.01389,"color":"black"},{"offset":0.01789,"color":"transparent"},
           {"offset":0.03767,"color":"transparent"},{"offset":0.04167,"color":"black"},{"offset":0.04567,"color":"transparent"},
           {"offset":0.06544,"color":"transparent"},{"offset":0.06944,"color":"black"},{"offset":0.07344,"color":"transparent"},
           {"offset":0.09322,"color":"transparent"},{"offset":0.09722,"color":"black"},{"offset":0.10122,"color":"transparent"},
           {"offset":0.121,"color":"transparent"},{"offset":0.125,"color":"black"},{"offset":0.129,"color":"transparent"},
           {"offset":0.14878,"color":"transparent"},{"offset":0.15278,"color":"black"},{"offset":0.15678,"color":"transparent"},
           {"offset":0.17656,"color":"transparent"},{"offset":0.18056,"color":"black"},{"offset":0.18456,"color":"transparent"},
           {"offset":0.20433,"color":"transparent"},{"offset":0.20833,"color":"black"},{"offset":0.21233,"color":"transparent"},
           {"offset":0.23211,"color":"transparent"},{"offset":0.23611,"color":"black"},{"offset":0.24011,"color":"transparent"},
           {"offset":0.25989,"color":"transparent"},{"offset":0.26389,"color":"black"},{"offset":0.26789,"color":"transparent"},
           {"offset":0.28767,"color":"transparent"},{"offset":0.29167,"color":"black"},{"offset":0.29567,"color":"transparent"},
           {"offset":0.31544,"color":"transparent"},{"offset":0.31944,"color":"black"},{"offset":0.32344,"color":"transparent"},
           {"offset":0.34322,"color":"transparent"},{"offset":0.34722,"color":"black"},{"offset":0.35122,"color":"transparent"},
           {"offset":0.371,"color":"transparent"},{"offset":0.375,"color":"black"},{"offset":0.379,"color":"transparent"},
           {"offset":0.39878,"color":"transparent"},{"offset":0.40278,"color":"black"},{"offset":0.40678,"color":"transparent"},
           {"offset":0.42656,"color":"transparent"},{"offset":0.43056,"color":"black"},{"offset":0.43456,"color":"transparent"},
           {"offset":0.45433,"color":"transparent"},{"offset":0.45833,"color":"black"},{"offset":0.46233,"color":"transparent"},
           {"offset":0.48211,"color":"transparent"},{"offset":0.48611,"color":"black"},{"offset":0.49011,"color":"transparent"},
           {"offset":0.50989,"color":"transparent"},{"offset":0.51389,"color":"black"},{"offset":0.51789,"color":"transparent"},
           {"offset":0.53767,"color":"transparent"},{"offset":0.54167,"color":"black"},{"offset":0.54567,"color":"transparent"},
           {"offset":0.56544,"color":"transparent"},{"offset":0.56944,"color":"black"},{"offset":0.57344,"color":"transparent"},
           {"offset":0.59322,"color":"transparent"},{"offset":0.59722,"color":"black"},{"offset":0.60122,"color":"transparent"},
           {"offset":0.621,"color":"transparent"},{"offset":0.625,"color":"black"},{"offset":0.629,"color":"transparent"},
           {"offset":0.64878,"color":"transparent"},{"offset":0.65278,"color":"black"},{"offset":0.65678,"color":"transparent"},
           {"offset":0.67656,"color":"transparent"},{"offset":0.68056,"color":"black"},{"offset":0.68456,"color":"transparent"},
           {"offset":0.70433,"color":"transparent"},{"offset":0.70833,"color":"black"},{"offset":0.71233,"color":"transparent"},
           {"offset":0.73211,"color":"transparent"},{"offset":0.73611,"color":"black"},{"offset":0.74011,"color":"transparent"},
           {"offset":0.75989,"color":"transparent"},{"offset":0.76389,"color":"black"},{"offset":0.76789,"color":"transparent"},
           {"offset":0.78767,"color":"transparent"},{"offset":0.79167,"color":"black"},{"offset":0.79567,"color":"transparent"},
           {"offset":0.81544,"color":"transparent"},{"offset":0.81944,"color":"black"},{"offset":0.82344,"color":"transparent"},
           {"offset":0.84322,"color":"transparent"},{"offset":0.84722,"color":"black"},{"offset":0.85122,"color":"transparent"},
           {"offset":0.871,"color":"transparent"},{"offset":0.875,"color":"black"},{"offset":0.879,"color":"transparent"},
           {"offset":0.89878,"color":"transparent"},{"offset":0.90278,"color":"black"},{"offset":0.90678,"color":"transparent"},
           {"offset":0.92656,"color":"transparent"},{"offset":0.93056,"color":"black"},{"offset":0.93456,"color":"transparent"},
           {"offset":0.95433,"color":"transparent"},{"offset":0.95833,"color":"black"},{"offset":0.96233,"color":"transparent"},
           {"offset":0.98211,"color":"transparent"},{"offset":0.98611,"color":"black"},{"offset":0.99011,"color":"transparent"}]}},
       "encoding": {"x": {"field": "x", "type": "quantitative", "scale": {"type": "log", "domain": [0.0003, 1], "nice": false}, "axis": {"orient": "bottom", "values": [0.001, 0.01, 0.1], "tickSize": -12, "domain": true, "title": null}},
                    "y": {"field": "lo", "type": "quantitative", "scale": {"domain": [0.855, 1.29], "nice": false, "zero": false}, "axis": {"orient": "left", "values": [0.9, 1, 1.1, 1.2], "tickSize": -13, "domain": true, "title": null}},
                    "y2": {"field": "hi"}}},
      {"data": {"name": "bandL"}, "mark": {"type": "area",
         "fill": {"gradient": "linear", "x1": 0, "y1": 1, "x2": 1.06955, "y2": 0.91907, "stops": [
           {"offset":0.00989,"color":"transparent"},{"offset":0.01389,"color":"black"},{"offset":0.01789,"color":"transparent"},
           {"offset":0.03767,"color":"transparent"},{"offset":0.04167,"color":"black"},{"offset":0.04567,"color":"transparent"},
           {"offset":0.06544,"color":"transparent"},{"offset":0.06944,"color":"black"},{"offset":0.07344,"color":"transparent"},
           {"offset":0.09322,"color":"transparent"},{"offset":0.09722,"color":"black"},{"offset":0.10122,"color":"transparent"},
           {"offset":0.121,"color":"transparent"},{"offset":0.125,"color":"black"},{"offset":0.129,"color":"transparent"},
           {"offset":0.14878,"color":"transparent"},{"offset":0.15278,"color":"black"},{"offset":0.15678,"color":"transparent"},
           {"offset":0.17656,"color":"transparent"},{"offset":0.18056,"color":"black"},{"offset":0.18456,"color":"transparent"},
           {"offset":0.20433,"color":"transparent"},{"offset":0.20833,"color":"black"},{"offset":0.21233,"color":"transparent"},
           {"offset":0.23211,"color":"transparent"},{"offset":0.23611,"color":"black"},{"offset":0.24011,"color":"transparent"},
           {"offset":0.25989,"color":"transparent"},{"offset":0.26389,"color":"black"},{"offset":0.26789,"color":"transparent"},
           {"offset":0.28767,"color":"transparent"},{"offset":0.29167,"color":"black"},{"offset":0.29567,"color":"transparent"},
           {"offset":0.31544,"color":"transparent"},{"offset":0.31944,"color":"black"},{"offset":0.32344,"color":"transparent"},
           {"offset":0.34322,"color":"transparent"},{"offset":0.34722,"color":"black"},{"offset":0.35122,"color":"transparent"},
           {"offset":0.371,"color":"transparent"},{"offset":0.375,"color":"black"},{"offset":0.379,"color":"transparent"},
           {"offset":0.39878,"color":"transparent"},{"offset":0.40278,"color":"black"},{"offset":0.40678,"color":"transparent"},
           {"offset":0.42656,"color":"transparent"},{"offset":0.43056,"color":"black"},{"offset":0.43456,"color":"transparent"},
           {"offset":0.45433,"color":"transparent"},{"offset":0.45833,"color":"black"},{"offset":0.46233,"color":"transparent"},
           {"offset":0.48211,"color":"transparent"},{"offset":0.48611,"color":"black"},{"offset":0.49011,"color":"transparent"},
           {"offset":0.50989,"color":"transparent"},{"offset":0.51389,"color":"black"},{"offset":0.51789,"color":"transparent"},
           {"offset":0.53767,"color":"transparent"},{"offset":0.54167,"color":"black"},{"offset":0.54567,"color":"transparent"},
           {"offset":0.56544,"color":"transparent"},{"offset":0.56944,"color":"black"},{"offset":0.57344,"color":"transparent"},
           {"offset":0.59322,"color":"transparent"},{"offset":0.59722,"color":"black"},{"offset":0.60122,"color":"transparent"},
           {"offset":0.621,"color":"transparent"},{"offset":0.625,"color":"black"},{"offset":0.629,"color":"transparent"},
           {"offset":0.64878,"color":"transparent"},{"offset":0.65278,"color":"black"},{"offset":0.65678,"color":"transparent"},
           {"offset":0.67656,"color":"transparent"},{"offset":0.68056,"color":"black"},{"offset":0.68456,"color":"transparent"},
           {"offset":0.70433,"color":"transparent"},{"offset":0.70833,"color":"black"},{"offset":0.71233,"color":"transparent"},
           {"offset":0.73211,"color":"transparent"},{"offset":0.73611,"color":"black"},{"offset":0.74011,"color":"transparent"},
           {"offset":0.75989,"color":"transparent"},{"offset":0.76389,"color":"black"},{"offset":0.76789,"color":"transparent"},
           {"offset":0.78767,"color":"transparent"},{"offset":0.79167,"color":"black"},{"offset":0.79567,"color":"transparent"},
           {"offset":0.81544,"color":"transparent"},{"offset":0.81944,"color":"black"},{"offset":0.82344,"color":"transparent"},
           {"offset":0.84322,"color":"transparent"},{"offset":0.84722,"color":"black"},{"offset":0.85122,"color":"transparent"},
           {"offset":0.871,"color":"transparent"},{"offset":0.875,"color":"black"},{"offset":0.879,"color":"transparent"},
           {"offset":0.89878,"color":"transparent"},{"offset":0.90278,"color":"black"},{"offset":0.90678,"color":"transparent"},
           {"offset":0.92656,"color":"transparent"},{"offset":0.93056,"color":"black"},{"offset":0.93456,"color":"transparent"},
           {"offset":0.95433,"color":"transparent"},{"offset":0.95833,"color":"black"},{"offset":0.96233,"color":"transparent"},
           {"offset":0.98211,"color":"transparent"},{"offset":0.98611,"color":"black"},{"offset":0.99011,"color":"transparent"}]}},
       "encoding": {"x": {"field": "x", "type": "quantitative", "scale": {"type": "log", "domain": [0.0003, 1], "nice": false}, "axis": null},
                    "y": {"field": "lo", "type": "quantitative", "scale": {"domain": [0.855, 1.29], "nice": false, "zero": false}, "axis": null},
                    "y2": {"field": "hi"}}},
      {"data": {"values": [{}]}, "mark": {"type": "rule", "color": "black", "strokeWidth": 1.5},
       "encoding": {"y": {"datum": 1, "type": "quantitative", "scale": {"domain": [0.855, 1.29], "nice": false, "zero": false}, "axis": {"orient": "left", "values": [0.95, 1.05, 1.15, 1.25], "tickSize": -6, "title": null}}}},
      {"data": {"values": [{}]}, "mark": {"type": "rect", "stroke": "black", "strokeWidth": 2,
         "fill": {"gradient": "linear", "x1": 0, "y1": 0, "x2": 1.07782, "y2": 0.90764, "stops": [
           {"offset":0.09,"color":"transparent"},{"offset":0.125,"color":"black"},{"offset":0.16,"color":"transparent"},
           {"offset":0.34,"color":"transparent"},{"offset":0.375,"color":"black"},{"offset":0.41,"color":"transparent"},
           {"offset":0.59,"color":"transparent"},{"offset":0.625,"color":"black"},{"offset":0.66,"color":"transparent"},
           {"offset":0.84,"color":"transparent"},{"offset":0.875,"color":"black"},{"offset":0.91,"color":"transparent"}]}},
       "encoding": {"x": {"datum": 0.000858, "type": "quantitative", "scale": {"type": "log", "domain": [0.0003, 1], "nice": false}, "axis": {"orient": "bottom", "values": [0.0004,0.0005,0.0006,0.0007,0.0008,0.0009,0.002,0.003,0.004,0.005,0.006,0.007,0.008,0.009,0.02,0.03,0.04,0.05,0.06,0.07,0.08,0.09,0.2,0.3,0.4,0.5,0.6,0.7,0.8,0.9], "tickSize": -6, "title": null}}, "x2": {"datum": 0.00131},
                    "y": {"datum": 1.1346, "type": "quantitative", "scale": {"domain": [0.855, 1.29], "nice": false, "zero": false}, "axis": {"orient": "right", "values": [0.9, 1, 1.1, 1.2], "tickSize": -13, "domain": true, "title": null}}, "y2": {"datum": 1.2244}}},
      {"data": {"values": [{}]}, "mark": {"type": "rect",
         "fill": {"gradient": "linear", "x1": 0, "y1": 1, "x2": 1.07782, "y2": 0.09236, "stops": [
           {"offset":0.09,"color":"transparent"},{"offset":0.125,"color":"black"},{"offset":0.16,"color":"transparent"},
           {"offset":0.34,"color":"transparent"},{"offset":0.375,"color":"black"},{"offset":0.41,"color":"transparent"},
           {"offset":0.59,"color":"transparent"},{"offset":0.625,"color":"black"},{"offset":0.66,"color":"transparent"},
           {"offset":0.84,"color":"transparent"},{"offset":0.875,"color":"black"},{"offset":0.91,"color":"transparent"}]}},
       "encoding": {"x": {"datum": 0.000858, "type": "quantitative", "scale": {"type": "log", "domain": [0.0003, 1], "nice": false}, "axis": null}, "x2": {"datum": 0.00131},
                    "y": {"datum": 1.1346, "type": "quantitative", "scale": {"domain": [0.855, 1.29], "nice": false, "zero": false}, "axis": null}, "y2": {"datum": 1.2244}}},
      {"data": {"values": [{}]}, "mark": {"type": "text", "align": "left", "baseline": "middle", "fontSize": 18, "text": "Theoretical uncertainty (Q/2 < μ"},
       "encoding": {"x": {"datum": 0.001532, "type": "quantitative", "scale": {"type": "log", "domain": [0.0003, 1], "nice": false}, "axis": {"orient": "top", "values": [0.001, 0.01, 0.1], "tickSize": -12, "domain": true, "title": null}},
                    "y": {"datum": 1.1812, "type": "quantitative", "scale": {"domain": [0.855, 1.29], "nice": false, "zero": false}, "axis": {"orient": "right", "values": [0.95, 1.05, 1.15, 1.25], "tickSize": -6, "title": null}}}},
      {"data": {"values": [{}]}, "mark": {"type": "text", "align": "left", "baseline": "middle", "fontSize": 13, "dy": 6, "text": "R"},
       "encoding": {"x": {"datum": 0.06932, "type": "quantitative", "scale": {"type": "log", "domain": [0.0003, 1], "nice": false}, "axis": {"orient": "top", "values": [0.0004,0.0005,0.0006,0.0007,0.0008,0.0009,0.002,0.003,0.004,0.005,0.006,0.007,0.008,0.009,0.02,0.03,0.04,0.05,0.06,0.07,0.08,0.09,0.2,0.3,0.4,0.5,0.6,0.7,0.8,0.9], "tickSize": -6, "title": null}},
                    "y": {"datum": 1.1812, "type": "quantitative", "scale": {"domain": [0.855, 1.29], "nice": false, "zero": false}, "axis": {"orient": "left", "values": [0.9, 1, 1.1, 1.2], "ticks": false, "labels": true, "labelPadding": 13, "format": "~g", "title": null}}}},
      {"data": {"values": [{}]}, "mark": {"type": "text", "align": "left", "baseline": "middle", "fontSize": 18, "text": "< 2Q)"},
       "encoding": {"x": {"datum": 0.08437, "type": "quantitative", "scale": {"type": "log", "domain": [0.0003, 1], "nice": false}, "axis": null},
                    "y": {"datum": 1.1812, "type": "quantitative", "scale": {"domain": [0.855, 1.29], "nice": false, "zero": false}, "axis": null}}},
      {"data": {"name": "decades"}, "mark": {"type": "text", "align": "right", "baseline": "middle", "fontSize": 20, "dx": 3.5, "dy": 32, "text": "10"},
       "encoding": {"x": {"field": "v", "type": "quantitative", "scale": {"type": "log", "domain": [0.0003, 1], "nice": false}, "axis": null},
                    "y": {"datum": 0.855, "type": "quantitative", "scale": {"domain": [0.855, 1.29], "nice": false, "zero": false}, "axis": null}}},
      {"data": {"name": "decades"}, "mark": {"type": "text", "align": "left", "baseline": "middle", "fontSize": 15, "dx": 10.5, "dy": 17},
       "encoding": {"x": {"field": "v", "type": "quantitative", "scale": {"type": "log", "domain": [0.0003, 1], "nice": false}, "axis": null},
                    "y": {"datum": 0.855, "type": "quantitative", "scale": {"domain": [0.855, 1.29], "nice": false, "zero": false}, "axis": null},
                    "text": {"field": "e"}}},
      {"data": {"values": [{}]}, "mark": {"type": "text", "align": "center", "baseline": "middle", "fontSize": 20, "dx": -2, "dy": 32, "text": "1"},
       "encoding": {"x": {"datum": 1, "type": "quantitative", "scale": {"type": "log", "domain": [0.0003, 1], "nice": false}, "axis": null},
                    "y": {"datum": 0.855, "type": "quantitative", "scale": {"domain": [0.855, 1.29], "nice": false, "zero": false}, "axis": null}}},
      {"data": {"values": [{}]}, "mark": {"type": "text", "align": "right", "baseline": "alphabetic", "fontSize": 38, "dx": -32, "dy": 67, "text": "y"},
       "encoding": {"x": {"datum": 1, "type": "quantitative", "scale": {"type": "log", "domain": [0.0003, 1], "nice": false}, "axis": null},
                    "y": {"datum": 0.855, "type": "quantitative", "scale": {"domain": [0.855, 1.29], "nice": false, "zero": false}, "axis": null}}},
      {"data": {"values": [{}]}, "mark": {"type": "text", "align": "right", "baseline": "alphabetic", "fontSize": 22, "dx": 0, "dy": 79, "text": "cut"},
       "encoding": {"x": {"datum": 1, "type": "quantitative", "scale": {"type": "log", "domain": [0.0003, 1], "nice": false}, "axis": null},
                    "y": {"datum": 0.855, "type": "quantitative", "scale": {"domain": [0.855, 1.29], "nice": false, "zero": false}, "axis": null}}}
    ]
  },
  {
    "width": 581, "height": 124,
    "resolve": {"axis": {"x": "independent", "y": "independent"}},
    "layer": [
      {"data": {"name": "bandR"}, "mark": {"type": "area", "stroke": "black", "strokeWidth": 2,
         "fill": {"gradient": "linear", "x1": 0, "y1": 0, "x2": 1.04173, "y2": 0.04554, "stops": [
           {"offset":0.00989,"color":"transparent"},{"offset":0.01389,"color":"black"},{"offset":0.01789,"color":"transparent"},
           {"offset":0.03767,"color":"transparent"},{"offset":0.04167,"color":"black"},{"offset":0.04567,"color":"transparent"},
           {"offset":0.06544,"color":"transparent"},{"offset":0.06944,"color":"black"},{"offset":0.07344,"color":"transparent"},
           {"offset":0.09322,"color":"transparent"},{"offset":0.09722,"color":"black"},{"offset":0.10122,"color":"transparent"},
           {"offset":0.121,"color":"transparent"},{"offset":0.125,"color":"black"},{"offset":0.129,"color":"transparent"},
           {"offset":0.14878,"color":"transparent"},{"offset":0.15278,"color":"black"},{"offset":0.15678,"color":"transparent"},
           {"offset":0.17656,"color":"transparent"},{"offset":0.18056,"color":"black"},{"offset":0.18456,"color":"transparent"},
           {"offset":0.20433,"color":"transparent"},{"offset":0.20833,"color":"black"},{"offset":0.21233,"color":"transparent"},
           {"offset":0.23211,"color":"transparent"},{"offset":0.23611,"color":"black"},{"offset":0.24011,"color":"transparent"},
           {"offset":0.25989,"color":"transparent"},{"offset":0.26389,"color":"black"},{"offset":0.26789,"color":"transparent"},
           {"offset":0.28767,"color":"transparent"},{"offset":0.29167,"color":"black"},{"offset":0.29567,"color":"transparent"},
           {"offset":0.31544,"color":"transparent"},{"offset":0.31944,"color":"black"},{"offset":0.32344,"color":"transparent"},
           {"offset":0.34322,"color":"transparent"},{"offset":0.34722,"color":"black"},{"offset":0.35122,"color":"transparent"},
           {"offset":0.371,"color":"transparent"},{"offset":0.375,"color":"black"},{"offset":0.379,"color":"transparent"},
           {"offset":0.39878,"color":"transparent"},{"offset":0.40278,"color":"black"},{"offset":0.40678,"color":"transparent"},
           {"offset":0.42656,"color":"transparent"},{"offset":0.43056,"color":"black"},{"offset":0.43456,"color":"transparent"},
           {"offset":0.45433,"color":"transparent"},{"offset":0.45833,"color":"black"},{"offset":0.46233,"color":"transparent"},
           {"offset":0.48211,"color":"transparent"},{"offset":0.48611,"color":"black"},{"offset":0.49011,"color":"transparent"},
           {"offset":0.50989,"color":"transparent"},{"offset":0.51389,"color":"black"},{"offset":0.51789,"color":"transparent"},
           {"offset":0.53767,"color":"transparent"},{"offset":0.54167,"color":"black"},{"offset":0.54567,"color":"transparent"},
           {"offset":0.56544,"color":"transparent"},{"offset":0.56944,"color":"black"},{"offset":0.57344,"color":"transparent"},
           {"offset":0.59322,"color":"transparent"},{"offset":0.59722,"color":"black"},{"offset":0.60122,"color":"transparent"},
           {"offset":0.621,"color":"transparent"},{"offset":0.625,"color":"black"},{"offset":0.629,"color":"transparent"},
           {"offset":0.64878,"color":"transparent"},{"offset":0.65278,"color":"black"},{"offset":0.65678,"color":"transparent"},
           {"offset":0.67656,"color":"transparent"},{"offset":0.68056,"color":"black"},{"offset":0.68456,"color":"transparent"},
           {"offset":0.70433,"color":"transparent"},{"offset":0.70833,"color":"black"},{"offset":0.71233,"color":"transparent"},
           {"offset":0.73211,"color":"transparent"},{"offset":0.73611,"color":"black"},{"offset":0.74011,"color":"transparent"},
           {"offset":0.75989,"color":"transparent"},{"offset":0.76389,"color":"black"},{"offset":0.76789,"color":"transparent"},
           {"offset":0.78767,"color":"transparent"},{"offset":0.79167,"color":"black"},{"offset":0.79567,"color":"transparent"},
           {"offset":0.81544,"color":"transparent"},{"offset":0.81944,"color":"black"},{"offset":0.82344,"color":"transparent"},
           {"offset":0.84322,"color":"transparent"},{"offset":0.84722,"color":"black"},{"offset":0.85122,"color":"transparent"},
           {"offset":0.871,"color":"transparent"},{"offset":0.875,"color":"black"},{"offset":0.879,"color":"transparent"},
           {"offset":0.89878,"color":"transparent"},{"offset":0.90278,"color":"black"},{"offset":0.90678,"color":"transparent"},
           {"offset":0.92656,"color":"transparent"},{"offset":0.93056,"color":"black"},{"offset":0.93456,"color":"transparent"},
           {"offset":0.95433,"color":"transparent"},{"offset":0.95833,"color":"black"},{"offset":0.96233,"color":"transparent"},
           {"offset":0.98211,"color":"transparent"},{"offset":0.98611,"color":"black"},{"offset":0.99011,"color":"transparent"}]}},
       "encoding": {"x": {"field": "x", "type": "quantitative", "scale": {"domain": [12.1, 64.9], "nice": false, "zero": false}, "axis": {"orient": "bottom", "values": [20, 30, 40, 50, 60], "tickSize": -12, "domain": true, "title": null}},
                    "y": {"field": "lo", "type": "quantitative", "scale": {"domain": [0.854, 1.19], "nice": false, "zero": false}, "axis": {"orient": "left", "values": [0.9, 1, 1.1], "tickSize": -13, "domain": true, "title": null}},
                    "y2": {"field": "hi"}}},
      {"data": {"name": "bandR"}, "mark": {"type": "area",
         "fill": {"gradient": "linear", "x1": 0, "y1": 1, "x2": 1.04173, "y2": 0.95446, "stops": [
           {"offset":0.00989,"color":"transparent"},{"offset":0.01389,"color":"black"},{"offset":0.01789,"color":"transparent"},
           {"offset":0.03767,"color":"transparent"},{"offset":0.04167,"color":"black"},{"offset":0.04567,"color":"transparent"},
           {"offset":0.06544,"color":"transparent"},{"offset":0.06944,"color":"black"},{"offset":0.07344,"color":"transparent"},
           {"offset":0.09322,"color":"transparent"},{"offset":0.09722,"color":"black"},{"offset":0.10122,"color":"transparent"},
           {"offset":0.121,"color":"transparent"},{"offset":0.125,"color":"black"},{"offset":0.129,"color":"transparent"},
           {"offset":0.14878,"color":"transparent"},{"offset":0.15278,"color":"black"},{"offset":0.15678,"color":"transparent"},
           {"offset":0.17656,"color":"transparent"},{"offset":0.18056,"color":"black"},{"offset":0.18456,"color":"transparent"},
           {"offset":0.20433,"color":"transparent"},{"offset":0.20833,"color":"black"},{"offset":0.21233,"color":"transparent"},
           {"offset":0.23211,"color":"transparent"},{"offset":0.23611,"color":"black"},{"offset":0.24011,"color":"transparent"},
           {"offset":0.25989,"color":"transparent"},{"offset":0.26389,"color":"black"},{"offset":0.26789,"color":"transparent"},
           {"offset":0.28767,"color":"transparent"},{"offset":0.29167,"color":"black"},{"offset":0.29567,"color":"transparent"},
           {"offset":0.31544,"color":"transparent"},{"offset":0.31944,"color":"black"},{"offset":0.32344,"color":"transparent"},
           {"offset":0.34322,"color":"transparent"},{"offset":0.34722,"color":"black"},{"offset":0.35122,"color":"transparent"},
           {"offset":0.371,"color":"transparent"},{"offset":0.375,"color":"black"},{"offset":0.379,"color":"transparent"},
           {"offset":0.39878,"color":"transparent"},{"offset":0.40278,"color":"black"},{"offset":0.40678,"color":"transparent"},
           {"offset":0.42656,"color":"transparent"},{"offset":0.43056,"color":"black"},{"offset":0.43456,"color":"transparent"},
           {"offset":0.45433,"color":"transparent"},{"offset":0.45833,"color":"black"},{"offset":0.46233,"color":"transparent"},
           {"offset":0.48211,"color":"transparent"},{"offset":0.48611,"color":"black"},{"offset":0.49011,"color":"transparent"},
           {"offset":0.50989,"color":"transparent"},{"offset":0.51389,"color":"black"},{"offset":0.51789,"color":"transparent"},
           {"offset":0.53767,"color":"transparent"},{"offset":0.54167,"color":"black"},{"offset":0.54567,"color":"transparent"},
           {"offset":0.56544,"color":"transparent"},{"offset":0.56944,"color":"black"},{"offset":0.57344,"color":"transparent"},
           {"offset":0.59322,"color":"transparent"},{"offset":0.59722,"color":"black"},{"offset":0.60122,"color":"transparent"},
           {"offset":0.621,"color":"transparent"},{"offset":0.625,"color":"black"},{"offset":0.629,"color":"transparent"},
           {"offset":0.64878,"color":"transparent"},{"offset":0.65278,"color":"black"},{"offset":0.65678,"color":"transparent"},
           {"offset":0.67656,"color":"transparent"},{"offset":0.68056,"color":"black"},{"offset":0.68456,"color":"transparent"},
           {"offset":0.70433,"color":"transparent"},{"offset":0.70833,"color":"black"},{"offset":0.71233,"color":"transparent"},
           {"offset":0.73211,"color":"transparent"},{"offset":0.73611,"color":"black"},{"offset":0.74011,"color":"transparent"},
           {"offset":0.75989,"color":"transparent"},{"offset":0.76389,"color":"black"},{"offset":0.76789,"color":"transparent"},
           {"offset":0.78767,"color":"transparent"},{"offset":0.79167,"color":"black"},{"offset":0.79567,"color":"transparent"},
           {"offset":0.81544,"color":"transparent"},{"offset":0.81944,"color":"black"},{"offset":0.82344,"color":"transparent"},
           {"offset":0.84322,"color":"transparent"},{"offset":0.84722,"color":"black"},{"offset":0.85122,"color":"transparent"},
           {"offset":0.871,"color":"transparent"},{"offset":0.875,"color":"black"},{"offset":0.879,"color":"transparent"},
           {"offset":0.89878,"color":"transparent"},{"offset":0.90278,"color":"black"},{"offset":0.90678,"color":"transparent"},
           {"offset":0.92656,"color":"transparent"},{"offset":0.93056,"color":"black"},{"offset":0.93456,"color":"transparent"},
           {"offset":0.95433,"color":"transparent"},{"offset":0.95833,"color":"black"},{"offset":0.96233,"color":"transparent"},
           {"offset":0.98211,"color":"transparent"},{"offset":0.98611,"color":"black"},{"offset":0.99011,"color":"transparent"}]}},
       "encoding": {"x": {"field": "x", "type": "quantitative", "scale": {"domain": [12.1, 64.9], "nice": false, "zero": false}, "axis": null},
                    "y": {"field": "lo", "type": "quantitative", "scale": {"domain": [0.854, 1.19], "nice": false, "zero": false}, "axis": null},
                    "y2": {"field": "hi"}}},
      {"data": {"values": [{}]}, "mark": {"type": "rule", "color": "black", "strokeWidth": 1.5},
       "encoding": {"y": {"datum": 1, "type": "quantitative", "scale": {"domain": [0.854, 1.19], "nice": false, "zero": false}, "axis": {"orient": "left", "values": [0.875,0.925,0.95,0.975,1.025,1.05,1.075,1.125,1.15,1.175], "tickSize": -6, "title": null}}}},
      {"data": {"values": [{}]}, "mark": {"type": "rect", "stroke": "black", "strokeWidth": 2,
         "fill": {"gradient": "linear", "x1": 0, "y1": 0, "x2": 1.08636, "y2": 0.89527, "stops": [
           {"offset":0.09,"color":"transparent"},{"offset":0.125,"color":"black"},{"offset":0.16,"color":"transparent"},
           {"offset":0.34,"color":"transparent"},{"offset":0.375,"color":"black"},{"offset":0.41,"color":"transparent"},
           {"offset":0.59,"color":"transparent"},{"offset":0.625,"color":"black"},{"offset":0.66,"color":"transparent"},
           {"offset":0.84,"color":"transparent"},{"offset":0.875,"color":"black"},{"offset":0.91,"color":"transparent"}]}},
       "encoding": {"x": {"datum": 18.92, "type": "quantitative", "scale": {"domain": [12.1, 64.9], "nice": false, "zero": false}, "axis": {"orient": "bottom", "values": [14,16,18,22,24,26,28,32,34,36,38,42,44,46,48,52,54,56,58,62,64], "tickSize": -6, "title": null}}, "x2": {"datum": 21.74},
                    "y": {"datum": 1.07, "type": "quantitative", "scale": {"domain": [0.854, 1.19], "nice": false, "zero": false}, "axis": {"orient": "right", "values": [0.9, 1, 1.1], "tickSize": -13, "domain": true, "title": null}}, "y2": {"datum": 1.1393}}},
      {"data": {"values": [{}]}, "mark": {"type": "rect",
         "fill": {"gradient": "linear", "x1": 0, "y1": 1, "x2": 1.08636, "y2": 0.10473, "stops": [
           {"offset":0.09,"color":"transparent"},{"offset":0.125,"color":"black"},{"offset":0.16,"color":"transparent"},
           {"offset":0.34,"color":"transparent"},{"offset":0.375,"color":"black"},{"offset":0.41,"color":"transparent"},
           {"offset":0.59,"color":"transparent"},{"offset":0.625,"color":"black"},{"offset":0.66,"color":"transparent"},
           {"offset":0.84,"color":"transparent"},{"offset":0.875,"color":"black"},{"offset":0.91,"color":"transparent"}]}},
       "encoding": {"x": {"datum": 18.92, "type": "quantitative", "scale": {"domain": [12.1, 64.9], "nice": false, "zero": false}, "axis": null}, "x2": {"datum": 21.74},
                    "y": {"datum": 1.07, "type": "quantitative", "scale": {"domain": [0.854, 1.19], "nice": false, "zero": false}, "axis": null}, "y2": {"datum": 1.1393}}},
      {"data": {"values": [{}]}, "mark": {"type": "text", "align": "left", "baseline": "middle", "fontSize": 18, "text": "Theoretical uncertainty (Q/2 < μ"},
       "encoding": {"x": {"datum": 22.73, "type": "quantitative", "scale": {"domain": [12.1, 64.9], "nice": false, "zero": false}, "axis": {"orient": "top", "values": [20, 30, 40, 50, 60], "tickSize": -12, "domain": true, "title": null}},
                    "y": {"datum": 1.106, "type": "quantitative", "scale": {"domain": [0.854, 1.19], "nice": false, "zero": false}, "axis": {"orient": "right", "values": [0.875,0.925,0.95,0.975,1.025,1.05,1.075,1.125,1.15,1.175], "tickSize": -6, "title": null}}}},
      {"data": {"values": [{}]}, "mark": {"type": "text", "align": "left", "baseline": "middle", "fontSize": 13, "dy": 6, "text": "R"},
       "encoding": {"x": {"datum": 47.59, "type": "quantitative", "scale": {"domain": [12.1, 64.9], "nice": false, "zero": false}, "axis": {"orient": "top", "values": [14,16,18,22,24,26,28,32,34,36,38,42,44,46,48,52,54,56,58,62,64], "tickSize": -6, "title": null}},
                    "y": {"datum": 1.106, "type": "quantitative", "scale": {"domain": [0.854, 1.19], "nice": false, "zero": false}, "axis": {"orient": "left", "values": [0.9, 1, 1.1], "ticks": false, "labels": true, "labelPadding": 13, "format": "~g", "title": null}}}},
      {"data": {"values": [{}]}, "mark": {"type": "text", "align": "left", "baseline": "middle", "fontSize": 18, "text": "< 2Q)"},
       "encoding": {"x": {"datum": 48.87, "type": "quantitative", "scale": {"domain": [12.1, 64.9], "nice": false, "zero": false}, "axis": {"orient": "bottom", "values": [20, 30, 40, 50, 60], "ticks": false, "labels": true, "labelPadding": 12, "format": "d", "title": null}},
                    "y": {"datum": 1.106, "type": "quantitative", "scale": {"domain": [0.854, 1.19], "nice": false, "zero": false}, "axis": null}}},
      {"data": {"values": [{}]}, "mark": {"type": "text", "align": "right", "baseline": "alphabetic", "fontSize": 35, "dx": 0, "dy": 70, "text": "(GeV)"},
       "encoding": {"x": {"datum": 64.9, "type": "quantitative", "scale": {"domain": [12.1, 64.9], "nice": false, "zero": false}, "axis": null},
                    "y": {"datum": 0.854, "type": "quantitative", "scale": {"domain": [0.854, 1.19], "nice": false, "zero": false}, "axis": null}}},
      {"data": {"values": [{}]}, "mark": {"type": "text", "align": "left", "baseline": "alphabetic", "fontSize": 35, "dx": -170, "dy": 70, "text": "E"},
       "encoding": {"x": {"datum": 64.9, "type": "quantitative", "scale": {"domain": [12.1, 64.9], "nice": false, "zero": false}, "axis": null},
                    "y": {"datum": 0.854, "type": "quantitative", "scale": {"domain": [0.854, 1.19], "nice": false, "zero": false}, "axis": null}}},
      {"data": {"values": [{}]}, "mark": {"type": "text", "align": "left", "baseline": "alphabetic", "fontSize": 22, "dx": -146, "dy": 79, "text": "T,jet"},
       "encoding": {"x": {"datum": 64.9, "type": "quantitative", "scale": {"domain": [12.1, 64.9], "nice": false, "zero": false}, "axis": null},
                    "y": {"datum": 0.854, "type": "quantitative", "scale": {"domain": [0.854, 1.19], "nice": false, "zero": false}, "axis": null}}}
    ]
  }
]
}
